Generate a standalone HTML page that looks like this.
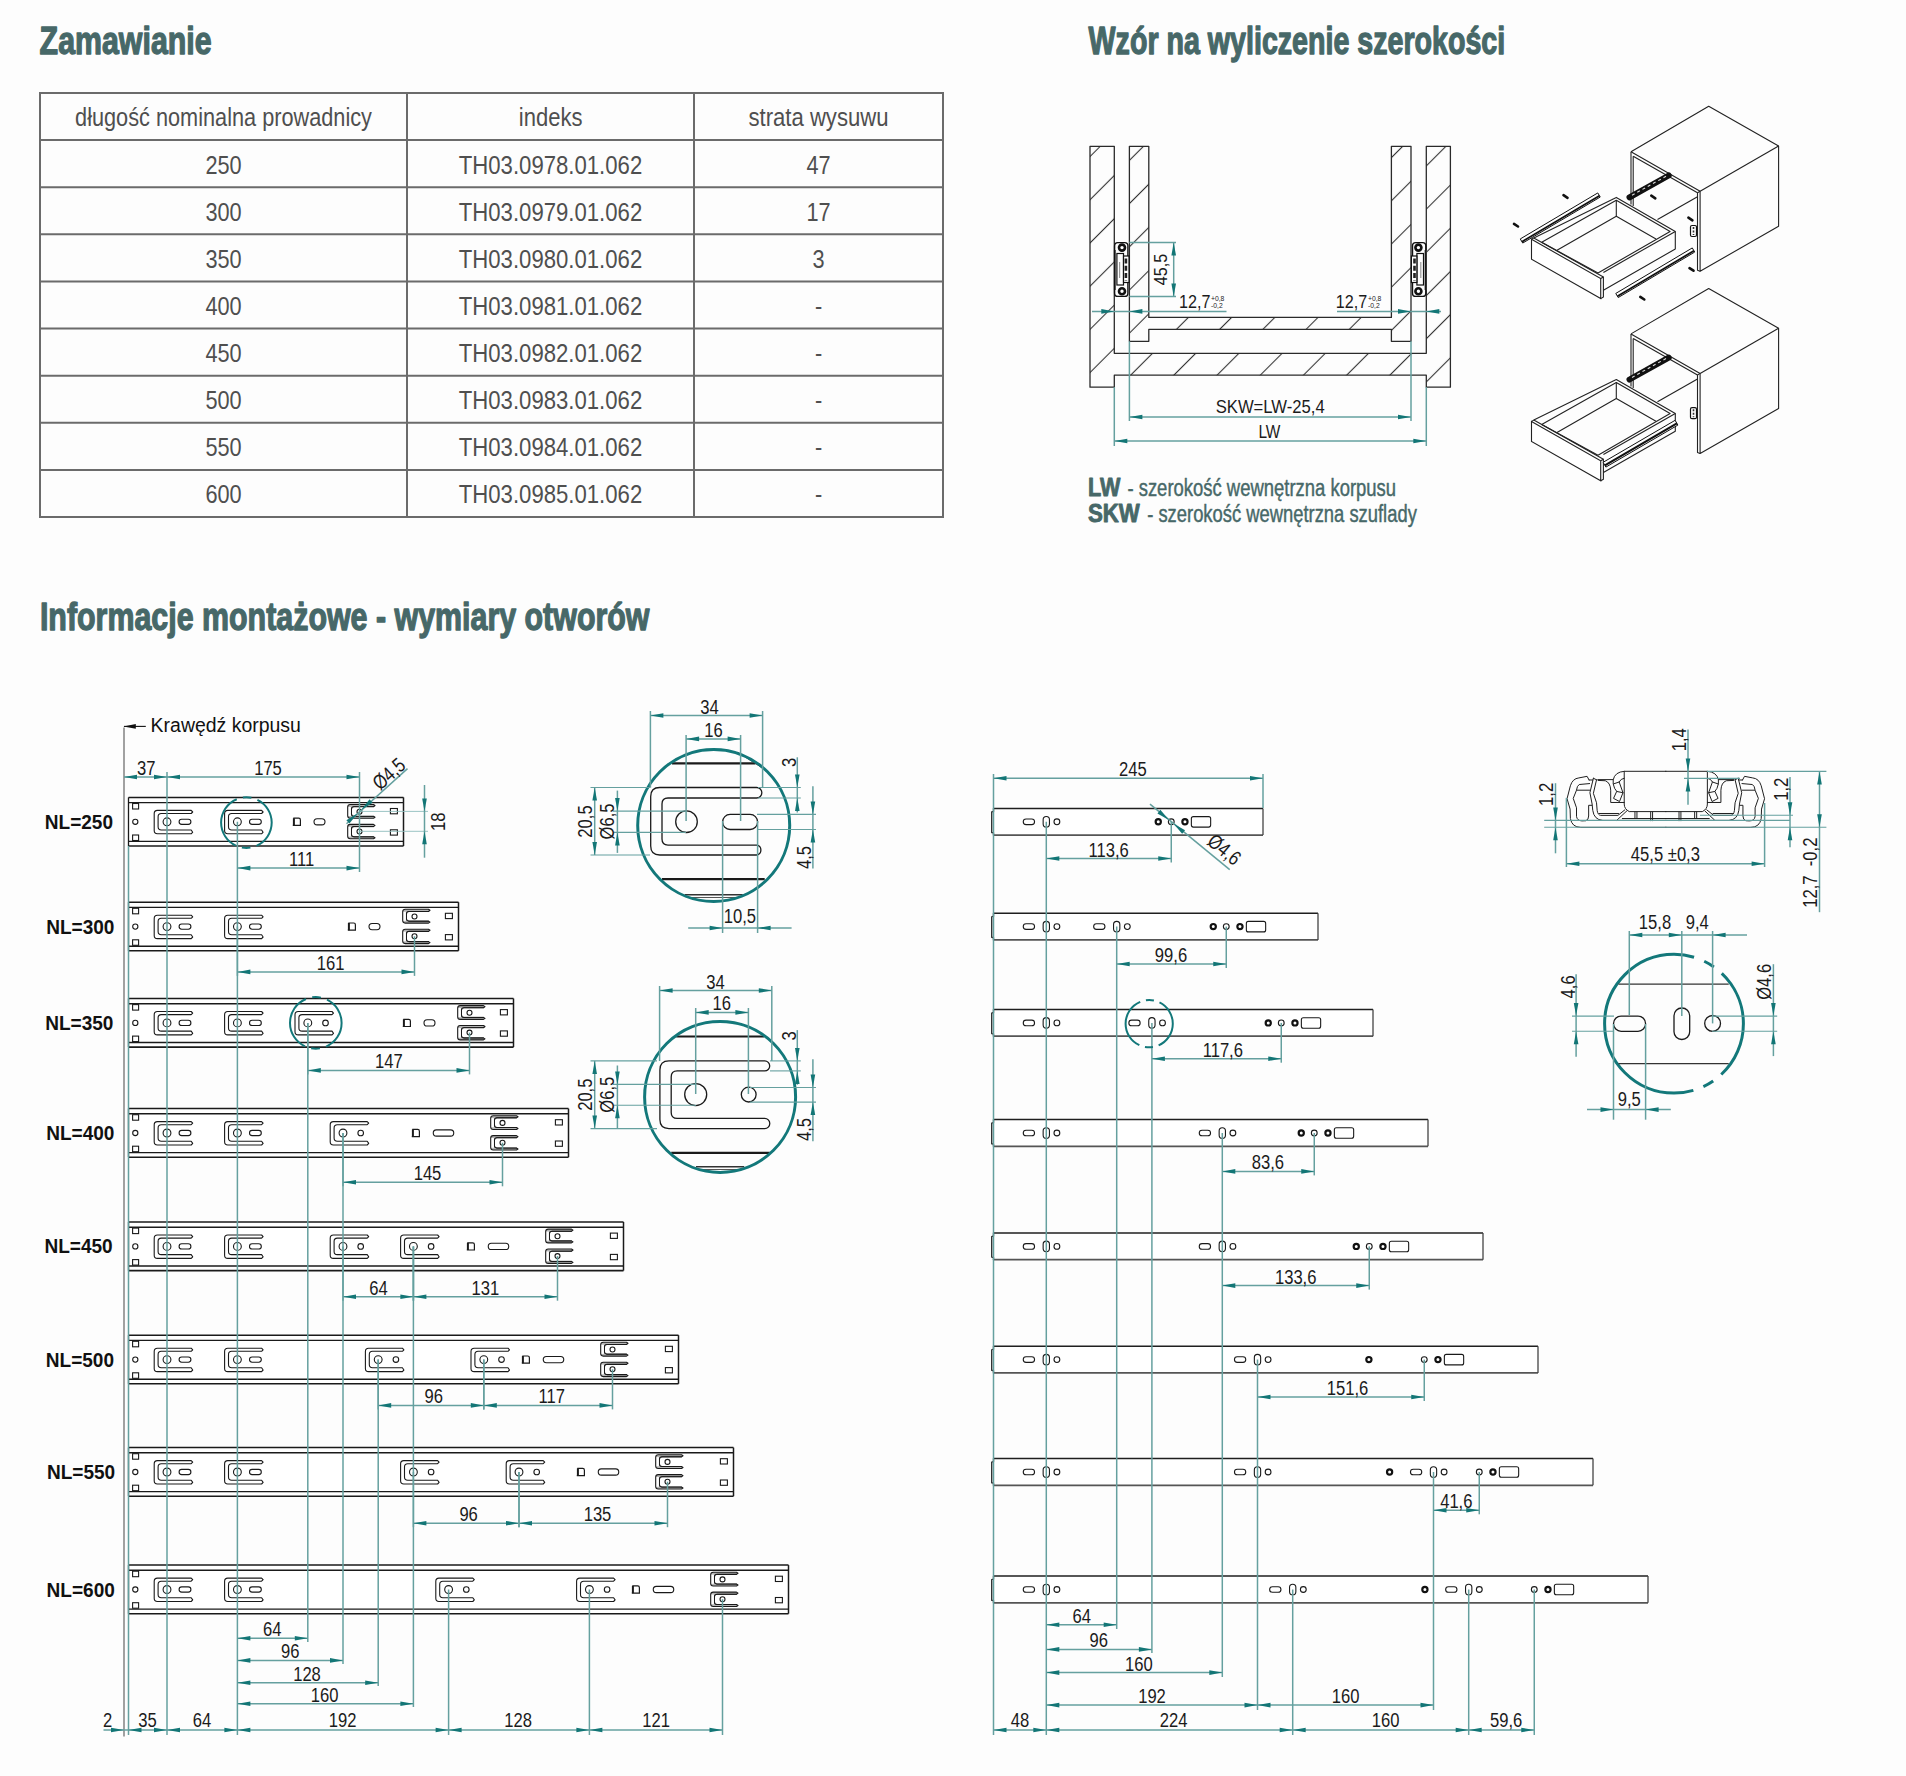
<!DOCTYPE html>
<html><head><meta charset="utf-8"><title>Prowadnice</title>
<style>
html,body{margin:0;padding:0;background:#fdfdfd;}
body{width:1906px;height:1776px;overflow:hidden;}
svg{display:block;font-family:"Liberation Sans",sans-serif;}
</style></head><body>
<svg width="1906" height="1776" viewBox="0 0 1906 1776">
<rect width="1906" height="1776" fill="#fdfdfd"/>
<text transform="translate(39.6,54.2) scale(0.7881,1)" font-size="38.5" font-weight="bold" fill="#476868" stroke="#476868" stroke-width="1.3" stroke-linejoin="round">Zamawianie</text>
<text transform="translate(1088.6,54.0) scale(0.7436,1)" font-size="38.5" font-weight="bold" fill="#476868" stroke="#476868" stroke-width="1.3" stroke-linejoin="round">Wzór na wyliczenie szerokości</text>
<text transform="translate(39.9,630.1) scale(0.7897,1)" font-size="38.5" font-weight="bold" fill="#476868" stroke="#476868" stroke-width="1.3" stroke-linejoin="round">Informacje montażowe - wymiary otworów</text>
<rect x="40" y="93" width="903" height="424" fill="none" stroke="#6b6b6b" stroke-width="2"/>
<line x1="40.00" y1="140.11" x2="943.00" y2="140.11" stroke="#6b6b6b" stroke-width="2"/>
<line x1="40.00" y1="187.22" x2="943.00" y2="187.22" stroke="#6b6b6b" stroke-width="2"/>
<line x1="40.00" y1="234.33" x2="943.00" y2="234.33" stroke="#6b6b6b" stroke-width="2"/>
<line x1="40.00" y1="281.44" x2="943.00" y2="281.44" stroke="#6b6b6b" stroke-width="2"/>
<line x1="40.00" y1="328.56" x2="943.00" y2="328.56" stroke="#6b6b6b" stroke-width="2"/>
<line x1="40.00" y1="375.67" x2="943.00" y2="375.67" stroke="#6b6b6b" stroke-width="2"/>
<line x1="40.00" y1="422.78" x2="943.00" y2="422.78" stroke="#6b6b6b" stroke-width="2"/>
<line x1="40.00" y1="469.89" x2="943.00" y2="469.89" stroke="#6b6b6b" stroke-width="2"/>
<line x1="407.00" y1="93.00" x2="407.00" y2="517.00" stroke="#6b6b6b" stroke-width="2"/>
<line x1="694.00" y1="93.00" x2="694.00" y2="517.00" stroke="#6b6b6b" stroke-width="2"/>
<text transform="translate(223.50,126.40) scale(0.8196,1)" font-size="26.5" text-anchor="middle" fill="#4f4f4f">długość nominalna prowadnicy</text>
<text transform="translate(550.70,126.40) scale(0.8316,1)" font-size="26.5" text-anchor="middle" fill="#4f4f4f">indeks</text>
<text transform="translate(818.50,126.40) scale(0.8351,1)" font-size="26.5" text-anchor="middle" fill="#4f4f4f">strata wysuwu</text>
<text transform="translate(223.50,173.51) scale(0.8200,1)" font-size="26.5" text-anchor="middle" fill="#4f4f4f">250</text>
<text transform="translate(550.50,173.51) scale(0.8364,1)" font-size="26.5" text-anchor="middle" fill="#4f4f4f">TH03.0978.01.062</text>
<text transform="translate(818.50,173.51) scale(0.8200,1)" font-size="26.5" text-anchor="middle" fill="#4f4f4f">47</text>
<text transform="translate(223.50,220.62) scale(0.8200,1)" font-size="26.5" text-anchor="middle" fill="#4f4f4f">300</text>
<text transform="translate(550.50,220.62) scale(0.8364,1)" font-size="26.5" text-anchor="middle" fill="#4f4f4f">TH03.0979.01.062</text>
<text transform="translate(818.50,220.62) scale(0.8200,1)" font-size="26.5" text-anchor="middle" fill="#4f4f4f">17</text>
<text transform="translate(223.50,267.73) scale(0.8200,1)" font-size="26.5" text-anchor="middle" fill="#4f4f4f">350</text>
<text transform="translate(550.50,267.73) scale(0.8364,1)" font-size="26.5" text-anchor="middle" fill="#4f4f4f">TH03.0980.01.062</text>
<text transform="translate(818.50,267.73) scale(0.8200,1)" font-size="26.5" text-anchor="middle" fill="#4f4f4f">3</text>
<text transform="translate(223.50,314.84) scale(0.8200,1)" font-size="26.5" text-anchor="middle" fill="#4f4f4f">400</text>
<text transform="translate(550.50,314.84) scale(0.8364,1)" font-size="26.5" text-anchor="middle" fill="#4f4f4f">TH03.0981.01.062</text>
<text transform="translate(818.50,314.84) scale(0.8200,1)" font-size="26.5" text-anchor="middle" fill="#4f4f4f">-</text>
<text transform="translate(223.50,361.96) scale(0.8200,1)" font-size="26.5" text-anchor="middle" fill="#4f4f4f">450</text>
<text transform="translate(550.50,361.96) scale(0.8364,1)" font-size="26.5" text-anchor="middle" fill="#4f4f4f">TH03.0982.01.062</text>
<text transform="translate(818.50,361.96) scale(0.8200,1)" font-size="26.5" text-anchor="middle" fill="#4f4f4f">-</text>
<text transform="translate(223.50,409.07) scale(0.8200,1)" font-size="26.5" text-anchor="middle" fill="#4f4f4f">500</text>
<text transform="translate(550.50,409.07) scale(0.8364,1)" font-size="26.5" text-anchor="middle" fill="#4f4f4f">TH03.0983.01.062</text>
<text transform="translate(818.50,409.07) scale(0.8200,1)" font-size="26.5" text-anchor="middle" fill="#4f4f4f">-</text>
<text transform="translate(223.50,456.18) scale(0.8200,1)" font-size="26.5" text-anchor="middle" fill="#4f4f4f">550</text>
<text transform="translate(550.50,456.18) scale(0.8364,1)" font-size="26.5" text-anchor="middle" fill="#4f4f4f">TH03.0984.01.062</text>
<text transform="translate(818.50,456.18) scale(0.8200,1)" font-size="26.5" text-anchor="middle" fill="#4f4f4f">-</text>
<text transform="translate(223.50,503.29) scale(0.8200,1)" font-size="26.5" text-anchor="middle" fill="#4f4f4f">600</text>
<text transform="translate(550.50,503.29) scale(0.8364,1)" font-size="26.5" text-anchor="middle" fill="#4f4f4f">TH03.0985.01.062</text>
<text transform="translate(818.50,503.29) scale(0.8200,1)" font-size="26.5" text-anchor="middle" fill="#4f4f4f">-</text>
<defs><pattern id="hatch" patternUnits="userSpaceOnUse" width="30.55" height="30" patternTransform="translate(1090,178.2) rotate(45)"><line x1="15.27" y1="-1" x2="15.27" y2="31" stroke="#333" stroke-width="1.1"/></pattern><clipPath id="c1"><rect x="0" y="0" width="1906" height="1776"/></clipPath></defs>
<polygon points="1090.00,146.30 1114.30,146.30 1114.30,353.30 1426.30,353.30 1426.30,146.30 1450.40,146.30 1450.40,387.20 1426.30,387.20 1426.30,375.20 1114.30,375.20 1114.30,387.20 1090.00,387.20" fill="url(#hatch)" stroke="#2a2a2a" stroke-width="1.3" stroke-linejoin="round"/>
<polygon points="1129.40,146.30 1148.80,146.30 1148.80,317.40 1391.40,317.40 1391.40,146.30 1411.00,146.30 1411.00,341.30 1391.40,341.30 1391.40,329.40 1148.80,329.40 1148.80,341.30 1129.40,341.30" fill="url(#hatch)" stroke="#2a2a2a" stroke-width="1.3" stroke-linejoin="round"/>
<line x1="1114.90" y1="250.00" x2="1114.90" y2="290.00" stroke="#777" stroke-width="2.2"/>
<rect x="1114.60" y="242.60" width="13.30" height="53.80" rx="3.2" fill="none" stroke="#111" stroke-width="1.4"/>
<rect x="1116.90" y="253.50" width="6.60" height="31.50" fill="#fff" stroke="#111" stroke-width="1.2"/>
<rect x="1123.50" y="256.00" width="5.50" height="26.50" fill="#fff" stroke="#111" stroke-width="1.2"/>
<line x1="1125.90" y1="258.5" x2="1125.90" y2="280.5" stroke="#222" stroke-width="2.6" stroke-dasharray="5 2.2"/>
<line x1="1119.60" y1="262.00" x2="1119.60" y2="278.00" stroke="#999" stroke-width="1.2"/>
<circle cx="1122.00" cy="247.6" r="3.0" fill="#fff" stroke="#111" stroke-width="2.6"/>
<circle cx="1122.00" cy="291.3" r="3.0" fill="#fff" stroke="#111" stroke-width="2.6"/>
<line x1="1425.50" y1="250.00" x2="1425.50" y2="290.00" stroke="#777" stroke-width="2.2"/>
<rect x="1412.50" y="242.60" width="13.30" height="53.80" rx="3.2" fill="none" stroke="#111" stroke-width="1.4"/>
<rect x="1416.90" y="253.50" width="6.60" height="31.50" fill="#fff" stroke="#111" stroke-width="1.2"/>
<rect x="1411.40" y="256.00" width="5.50" height="26.50" fill="#fff" stroke="#111" stroke-width="1.2"/>
<line x1="1414.50" y1="258.5" x2="1414.50" y2="280.5" stroke="#222" stroke-width="2.6" stroke-dasharray="5 2.2"/>
<line x1="1420.80" y1="262.00" x2="1420.80" y2="278.00" stroke="#999" stroke-width="1.2"/>
<circle cx="1418.40" cy="247.6" r="3.0" fill="#fff" stroke="#111" stroke-width="2.6"/>
<circle cx="1418.40" cy="291.3" r="3.0" fill="#fff" stroke="#111" stroke-width="2.6"/>
<line x1="1129.40" y1="242.60" x2="1176.00" y2="242.60" stroke="#65a09f" stroke-width="1.5"/>
<line x1="1129.40" y1="296.50" x2="1176.00" y2="296.50" stroke="#65a09f" stroke-width="1.5"/>
<line x1="1173.70" y1="242.60" x2="1173.70" y2="296.50" stroke="#65a09f" stroke-width="1.5"/>
<polygon points="1173.70,242.60 1176.00,255.60 1171.40,255.60" fill="#137676"/>
<polygon points="1173.70,296.50 1171.40,283.50 1176.00,283.50" fill="#137676"/>
<text transform="translate(1166.50,269.50) rotate(-90) scale(0.8500,1)" font-size="19" text-anchor="middle" fill="#1b1b1b">45,5</text>
<line x1="1092.00" y1="311.40" x2="1226.50" y2="311.40" stroke="#65a09f" stroke-width="1.5"/>
<polygon points="1114.30,311.40 1101.30,313.70 1101.30,309.10" fill="#137676"/>
<polygon points="1129.40,311.40 1142.40,309.10 1142.40,313.70" fill="#137676"/>
<text transform="translate(1179.00,308.00) scale(0.8500,1)" font-size="19" text-anchor="start" fill="#1b1b1b">12,7</text>
<text transform="translate(1211.00,300.50) scale(0.8500,1)" font-size="8" text-anchor="start" fill="#1b1b1b">+0,8</text>
<text transform="translate(1211.00,307.50) scale(0.8500,1)" font-size="8" text-anchor="start" fill="#1b1b1b">-0,2</text>
<line x1="1337.00" y1="311.40" x2="1441.00" y2="311.40" stroke="#65a09f" stroke-width="1.5"/>
<polygon points="1411.00,311.40 1398.00,313.70 1398.00,309.10" fill="#137676"/>
<polygon points="1426.30,311.40 1439.30,309.10 1439.30,313.70" fill="#137676"/>
<text transform="translate(1335.80,308.00) scale(0.8500,1)" font-size="19" text-anchor="start" fill="#1b1b1b">12,7</text>
<text transform="translate(1368.00,300.50) scale(0.8500,1)" font-size="8" text-anchor="start" fill="#1b1b1b">+0,8</text>
<text transform="translate(1368.00,307.50) scale(0.8500,1)" font-size="8" text-anchor="start" fill="#1b1b1b">-0,2</text>
<line x1="1129.40" y1="341.30" x2="1129.40" y2="421.00" stroke="#65a09f" stroke-width="1.5"/>
<line x1="1411.00" y1="341.30" x2="1411.00" y2="421.00" stroke="#65a09f" stroke-width="1.5"/>
<line x1="1129.40" y1="417.00" x2="1411.00" y2="417.00" stroke="#65a09f" stroke-width="1.5"/>
<polygon points="1129.40,417.00 1142.40,414.70 1142.40,419.30" fill="#137676"/>
<polygon points="1411.00,417.00 1398.00,419.30 1398.00,414.70" fill="#137676"/>
<text transform="translate(1270.20,413.00) scale(0.8760,1)" font-size="19" text-anchor="middle" fill="#1b1b1b">SKW=LW-25,4</text>
<line x1="1114.30" y1="387.20" x2="1114.30" y2="446.00" stroke="#65a09f" stroke-width="1.5"/>
<line x1="1426.30" y1="387.20" x2="1426.30" y2="446.00" stroke="#65a09f" stroke-width="1.5"/>
<line x1="1114.30" y1="441.00" x2="1426.30" y2="441.00" stroke="#65a09f" stroke-width="1.5"/>
<polygon points="1114.30,441.00 1127.30,438.70 1127.30,443.30" fill="#137676"/>
<polygon points="1426.30,441.00 1413.30,443.30 1413.30,438.70" fill="#137676"/>
<text transform="translate(1269.40,438.00) scale(0.8121,1)" font-size="19" text-anchor="middle" fill="#1b1b1b">LW</text>
<text transform="translate(1087.9,495.6) scale(0.8643,1)" font-size="25.0" font-weight="bold" fill="#476868" stroke="#476868" stroke-width="0.9" stroke-linejoin="round">LW</text>
<text transform="translate(1127.4,495.6) scale(0.7504,1)" font-size="24.6" fill="#476868" stroke="#476868" stroke-width="0.45" stroke-linejoin="round">- szerokość wewnętrzna korpusu</text>
<text transform="translate(1087.9,522.0) scale(0.8881,1)" font-size="25.0" font-weight="bold" fill="#476868" stroke="#476868" stroke-width="0.9" stroke-linejoin="round">SKW</text>
<text transform="translate(1147.2,522.0) scale(0.7475,1)" font-size="24.6" fill="#476868" stroke="#476868" stroke-width="0.45" stroke-linejoin="round">- szerokość wewnętrzna szuflady</text>
<polyline points="1631.00,151.70 1708.70,106.30 1778.60,146.10 1778.60,226.20 1700.10,271.30 1700.10,191.20 1631.00,151.70" fill="none" stroke="#222" stroke-width="1.1" stroke-linejoin="round"/>
<polyline points="1700.10,191.20 1778.60,146.10" fill="none" stroke="#222" stroke-width="1.1" stroke-linejoin="round"/>
<polyline points="1700.10,191.20 1697.50,192.80 1697.50,270.30 1700.10,271.30" fill="none" stroke="#222" stroke-width="1.1" stroke-linejoin="round"/>
<polyline points="1631.00,151.70 1631.00,204.40" fill="none" stroke="#222" stroke-width="1.1" stroke-linejoin="round"/>
<polyline points="1633.20,156.30 1633.20,205.90" fill="none" stroke="#222" stroke-width="1.1" stroke-linejoin="round"/>
<polyline points="1633.20,156.30 1697.50,192.80" fill="none" stroke="#222" stroke-width="1.1" stroke-linejoin="round"/>
<polyline points="1657.50,219.60 1697.50,196.80" fill="none" stroke="#222" stroke-width="1.1" stroke-linejoin="round"/>
<line x1="1629.50" y1="197.30" x2="1668.70" y2="175.50" stroke="#111" stroke-width="6.0" stroke-linecap="round"/>
<line x1="1632" y1="195.2" x2="1666" y2="176.3" stroke="#ddd" stroke-width="1.1" stroke-dasharray="3 3"/>
<rect x="1690.5" y="225.5" width="6" height="11" rx="1.5" fill="#fff" stroke="#111" stroke-width="1.2"/>
<line x1="1693.5" y1="227.0" x2="1693.5" y2="235.0" stroke="#333" stroke-width="1.6" stroke-dasharray="2 1.5"/>
<polygon points="1531.50,239.30 1600.70,278.60 1600.70,298.60 1531.50,259.20" fill="#fff" stroke="#222" stroke-width="1.1"/>
<polyline points="1600.70,278.60 1603.40,277.10 1603.40,297.00 1600.70,298.60" fill="none" stroke="#222" stroke-width="1.1" stroke-linejoin="round"/>
<polyline points="1531.50,239.30 1533.80,237.90 1603.40,277.10" fill="none" stroke="#222" stroke-width="1.1" stroke-linejoin="round"/>
<polyline points="1533.80,237.90 1616.30,197.40 1675.30,231.40 1675.30,249.00 1603.40,290.20" fill="none" stroke="#222" stroke-width="1.1" stroke-linejoin="round"/>
<polyline points="1675.30,231.40 1603.40,272.40" fill="none" stroke="#222" stroke-width="1.1" stroke-linejoin="round"/>
<polyline points="1541.70,242.30 1616.30,200.30 1670.10,231.40 1598.00,273.00" fill="none" stroke="#222" stroke-width="1.1" stroke-linejoin="round"/>
<polyline points="1541.70,242.30 1598.00,273.00" fill="none" stroke="#222" stroke-width="1.1" stroke-linejoin="round"/>
<polyline points="1616.30,200.30 1616.30,216.30" fill="none" stroke="#222" stroke-width="1.1" stroke-linejoin="round"/>
<polyline points="1557.00,250.30 1616.30,216.30 1656.00,239.00" fill="none" stroke="#222" stroke-width="1.1" stroke-linejoin="round"/>
<polygon points="1522.72,243.06 1600.22,197.06 1597.78,192.94 1520.28,238.94" fill="#fff" stroke="#111" stroke-width="1.0" stroke-linejoin="round"/>
<line x1="1521.96" y1="241.77" x2="1599.46" y2="195.77" stroke="#111" stroke-width="1.8"/>
<polygon points="1618.23,297.56 1694.73,252.06 1692.27,247.94 1615.77,293.44" fill="#fff" stroke="#111" stroke-width="1.0" stroke-linejoin="round"/>
<line x1="1617.46" y1="296.27" x2="1693.96" y2="250.77" stroke="#111" stroke-width="1.8"/>
<line x1="1563.5" y1="195.2" x2="1567.5" y2="197.8" stroke="#111" stroke-width="2.6" stroke-linecap="round"/>
<line x1="1514.0" y1="223.9" x2="1518.0" y2="226.5" stroke="#111" stroke-width="2.6" stroke-linecap="round"/>
<line x1="1651.3" y1="195.7" x2="1655.3" y2="198.3" stroke="#111" stroke-width="2.6" stroke-linecap="round"/>
<line x1="1688.4" y1="217.7" x2="1692.4" y2="220.3" stroke="#111" stroke-width="2.6" stroke-linecap="round"/>
<line x1="1689.5" y1="268.1" x2="1693.5" y2="270.7" stroke="#111" stroke-width="2.6" stroke-linecap="round"/>
<line x1="1640.3" y1="296.9" x2="1644.3" y2="299.5" stroke="#111" stroke-width="2.6" stroke-linecap="round"/>
<polyline points="1631.00,333.90 1708.70,288.50 1778.60,328.30 1778.60,408.40 1700.10,453.50 1700.10,373.40 1631.00,333.90" fill="none" stroke="#222" stroke-width="1.1" stroke-linejoin="round"/>
<polyline points="1700.10,373.40 1778.60,328.30" fill="none" stroke="#222" stroke-width="1.1" stroke-linejoin="round"/>
<polyline points="1700.10,373.40 1697.50,375.00 1697.50,452.50 1700.10,453.50" fill="none" stroke="#222" stroke-width="1.1" stroke-linejoin="round"/>
<polyline points="1631.00,333.90 1631.00,386.60" fill="none" stroke="#222" stroke-width="1.1" stroke-linejoin="round"/>
<polyline points="1633.20,338.50 1633.20,388.10" fill="none" stroke="#222" stroke-width="1.1" stroke-linejoin="round"/>
<polyline points="1633.20,338.50 1697.50,375.00" fill="none" stroke="#222" stroke-width="1.1" stroke-linejoin="round"/>
<polyline points="1657.50,401.80 1697.50,379.00" fill="none" stroke="#222" stroke-width="1.1" stroke-linejoin="round"/>
<line x1="1629.50" y1="379.50" x2="1668.70" y2="357.70" stroke="#111" stroke-width="6.0" stroke-linecap="round"/>
<line x1="1632" y1="377.4" x2="1666" y2="358.5" stroke="#ddd" stroke-width="1.1" stroke-dasharray="3 3"/>
<rect x="1690.5" y="407.7" width="6" height="11" rx="1.5" fill="#fff" stroke="#111" stroke-width="1.2"/>
<line x1="1693.5" y1="409.2" x2="1693.5" y2="417.2" stroke="#333" stroke-width="1.6" stroke-dasharray="2 1.5"/>
<polygon points="1531.50,421.50 1600.70,460.80 1600.70,480.80 1531.50,441.40" fill="#fff" stroke="#222" stroke-width="1.1"/>
<polyline points="1600.70,460.80 1603.40,459.30 1603.40,479.20 1600.70,480.80" fill="none" stroke="#222" stroke-width="1.1" stroke-linejoin="round"/>
<polyline points="1531.50,421.50 1533.80,420.10 1603.40,459.30" fill="none" stroke="#222" stroke-width="1.1" stroke-linejoin="round"/>
<polyline points="1533.80,420.10 1616.30,379.60 1675.30,413.60 1675.30,431.20 1603.40,472.40" fill="none" stroke="#222" stroke-width="1.1" stroke-linejoin="round"/>
<polyline points="1675.30,413.60 1603.40,454.60" fill="none" stroke="#222" stroke-width="1.1" stroke-linejoin="round"/>
<polyline points="1541.70,424.50 1616.30,382.50 1670.10,413.60 1598.00,455.20" fill="none" stroke="#222" stroke-width="1.1" stroke-linejoin="round"/>
<polyline points="1541.70,424.50 1598.00,455.20" fill="none" stroke="#222" stroke-width="1.1" stroke-linejoin="round"/>
<polyline points="1616.30,382.50 1616.30,398.50" fill="none" stroke="#222" stroke-width="1.1" stroke-linejoin="round"/>
<polyline points="1557.00,432.50 1616.30,398.50 1656.00,421.20" fill="none" stroke="#222" stroke-width="1.1" stroke-linejoin="round"/>
<polygon points="1605.89,467.08 1677.89,425.08 1675.11,420.32 1603.11,462.32" fill="#fff" stroke="#111" stroke-width="1.0" stroke-linejoin="round"/>
<line x1="1604.90" y1="465.39" x2="1676.90" y2="423.39" stroke="#111" stroke-width="2.2"/>
<rect x="128.50" y="797.40" width="275.00" height="48.60" fill="#fff" stroke="none"/>
<line x1="128.50" y1="797.40" x2="403.50" y2="797.40" stroke="#1a1a1a" stroke-width="1.5"/>
<line x1="128.50" y1="802.60" x2="403.50" y2="802.60" stroke="#1a1a1a" stroke-width="1.4"/>
<line x1="128.50" y1="841.40" x2="403.50" y2="841.40" stroke="#1a1a1a" stroke-width="1.4"/>
<line x1="128.50" y1="846.00" x2="403.50" y2="846.00" stroke="#1a1a1a" stroke-width="1.6"/>
<line x1="128.50" y1="797.40" x2="128.50" y2="846.00" stroke="#1a1a1a" stroke-width="1.3"/>
<line x1="403.50" y1="797.40" x2="403.50" y2="846.00" stroke="#1a1a1a" stroke-width="1.5"/>
<rect x="132.60" y="803.50" width="6" height="5.5" fill="none" stroke="#1a1a1a" stroke-width="1.1"/>
<rect x="132.60" y="835.00" width="6" height="5.5" fill="none" stroke="#1a1a1a" stroke-width="1.1"/>
<circle cx="135.30" cy="821.80" r="2.6" fill="none" stroke="#1a1a1a" stroke-width="1.1"/>
<path d="M191.20,810.40 L157.40,810.40 Q154.20,810.40 154.20,813.60 L154.20,830.60 Q154.20,833.80 157.40,833.80 L191.20,833.80 L192.70,832.20 L191.20,830.00 L161.30,830.00 Q158.10,830.00 158.10,826.80 L158.10,816.70 Q158.10,813.50 161.30,813.50 L191.20,813.50 L192.70,812.00 Z" fill="none" stroke="#1a1a1a" stroke-width="1.1" stroke-linejoin="round" stroke-linecap="round"/>
<circle cx="167.00" cy="821.80" r="3.9" fill="none" stroke="#1a1a1a" stroke-width="1.1"/>
<rect x="179.10" y="819.20" width="11.8" height="5.2" rx="2.6" fill="none" stroke="#1a1a1a" stroke-width="1.1"/>
<path d="M261.60,810.40 L227.80,810.40 Q224.60,810.40 224.60,813.60 L224.60,830.60 Q224.60,833.80 227.80,833.80 L261.60,833.80 L263.10,832.20 L261.60,830.00 L231.70,830.00 Q228.50,830.00 228.50,826.80 L228.50,816.70 Q228.50,813.50 231.70,813.50 L261.60,813.50 L263.10,812.00 Z" fill="none" stroke="#1a1a1a" stroke-width="1.1" stroke-linejoin="round" stroke-linecap="round"/>
<circle cx="237.40" cy="821.80" r="3.9" fill="none" stroke="#1a1a1a" stroke-width="1.1"/>
<rect x="249.50" y="819.20" width="11.8" height="5.2" rx="2.6" fill="none" stroke="#1a1a1a" stroke-width="1.1"/>
<path d="M293.30,818.20 L298.70,818.20 Q300.40,818.20 300.40,820.00 L300.40,825.40 L292.80,825.40" fill="none" stroke="#1a1a1a" stroke-width="1.2"/>
<line x1="293.90" y1="818.20" x2="293.90" y2="825.40" stroke="#1a1a1a" stroke-width="2.0"/>
<rect x="314.00" y="818.70" width="11" height="6.2" rx="3.1" fill="none" stroke="#1a1a1a" stroke-width="1.1"/>
<path d="M373.50,804.50 L350.20,804.50 Q347.70,804.50 347.70,807.00 L347.70,815.80 Q347.70,818.30 350.20,818.30 L373.50,818.30 L375.00,817.30 L373.50,816.30 L354.00,816.30 Q351.50,816.30 351.50,813.80 L351.50,809.20 Q351.50,806.70 354.00,806.70 L373.50,806.70 L375.00,805.50 Z" fill="#b4b4b4" stroke="#1a1a1a" stroke-width="1.1" stroke-linejoin="round" stroke-linecap="round"/>
<rect x="352.10" y="807.30" width="22.90" height="8.40" fill="#fff"/>
<rect x="348.50" y="806.90" width="2.40" height="9.20" fill="#fff"/>
<path d="M373.50,806.70 L354.00,806.70 Q351.50,806.70 351.50,809.20 L351.50,813.80 Q351.50,816.30 354.00,816.30 L373.50,816.30" fill="none" stroke="#1a1a1a" stroke-width="1.0" stroke-linejoin="round" stroke-linecap="round"/>
<circle cx="359.50" cy="811.70" r="2.5" fill="#fff" stroke="#1a1a1a" stroke-width="1.1"/>
<path d="M373.50,824.40 L350.20,824.40 Q347.70,824.40 347.70,826.90 L347.70,836.30 Q347.70,838.80 350.20,838.80 L373.50,838.80 L375.00,837.80 L373.50,836.80 L354.00,836.80 Q351.50,836.80 351.50,834.30 L351.50,829.10 Q351.50,826.60 354.00,826.60 L373.50,826.60 L375.00,825.40 Z" fill="#b4b4b4" stroke="#1a1a1a" stroke-width="1.1" stroke-linejoin="round" stroke-linecap="round"/>
<rect x="352.10" y="827.20" width="22.90" height="9.00" fill="#fff"/>
<rect x="348.50" y="826.80" width="2.40" height="9.80" fill="#fff"/>
<path d="M373.50,826.60 L354.00,826.60 Q351.50,826.60 351.50,829.10 L351.50,834.30 Q351.50,836.80 354.00,836.80 L373.50,836.80" fill="none" stroke="#1a1a1a" stroke-width="1.0" stroke-linejoin="round" stroke-linecap="round"/>
<circle cx="359.50" cy="831.50" r="2.5" fill="#fff" stroke="#1a1a1a" stroke-width="1.1"/>
<rect x="390.40" y="808.50" width="7" height="5.3" fill="none" stroke="#1a1a1a" stroke-width="1.1"/>
<rect x="390.40" y="829.80" width="7" height="5.3" fill="none" stroke="#1a1a1a" stroke-width="1.1"/>
<text transform="translate(113.00,828.80) scale(0.9870,1)" font-size="19.3" text-anchor="end" fill="#111" font-weight="bold">NL=250</text>
<rect x="128.50" y="902.20" width="330.00" height="48.60" fill="#fff" stroke="none"/>
<line x1="128.50" y1="902.20" x2="458.50" y2="902.20" stroke="#1a1a1a" stroke-width="1.5"/>
<line x1="128.50" y1="907.40" x2="458.50" y2="907.40" stroke="#1a1a1a" stroke-width="1.4"/>
<line x1="128.50" y1="946.20" x2="458.50" y2="946.20" stroke="#1a1a1a" stroke-width="1.4"/>
<line x1="128.50" y1="950.80" x2="458.50" y2="950.80" stroke="#1a1a1a" stroke-width="1.6"/>
<line x1="128.50" y1="902.20" x2="128.50" y2="950.80" stroke="#1a1a1a" stroke-width="1.3"/>
<line x1="458.50" y1="902.20" x2="458.50" y2="950.80" stroke="#1a1a1a" stroke-width="1.5"/>
<rect x="132.60" y="908.30" width="6" height="5.5" fill="none" stroke="#1a1a1a" stroke-width="1.1"/>
<rect x="132.60" y="939.80" width="6" height="5.5" fill="none" stroke="#1a1a1a" stroke-width="1.1"/>
<circle cx="135.30" cy="926.60" r="2.6" fill="none" stroke="#1a1a1a" stroke-width="1.1"/>
<path d="M191.20,915.20 L157.40,915.20 Q154.20,915.20 154.20,918.40 L154.20,935.40 Q154.20,938.60 157.40,938.60 L191.20,938.60 L192.70,937.00 L191.20,934.80 L161.30,934.80 Q158.10,934.80 158.10,931.60 L158.10,921.50 Q158.10,918.30 161.30,918.30 L191.20,918.30 L192.70,916.80 Z" fill="none" stroke="#1a1a1a" stroke-width="1.1" stroke-linejoin="round" stroke-linecap="round"/>
<circle cx="167.00" cy="926.60" r="3.9" fill="none" stroke="#1a1a1a" stroke-width="1.1"/>
<rect x="179.10" y="924.00" width="11.8" height="5.2" rx="2.6" fill="none" stroke="#1a1a1a" stroke-width="1.1"/>
<path d="M261.60,915.20 L227.80,915.20 Q224.60,915.20 224.60,918.40 L224.60,935.40 Q224.60,938.60 227.80,938.60 L261.60,938.60 L263.10,937.00 L261.60,934.80 L231.70,934.80 Q228.50,934.80 228.50,931.60 L228.50,921.50 Q228.50,918.30 231.70,918.30 L261.60,918.30 L263.10,916.80 Z" fill="none" stroke="#1a1a1a" stroke-width="1.1" stroke-linejoin="round" stroke-linecap="round"/>
<circle cx="237.40" cy="926.60" r="3.9" fill="none" stroke="#1a1a1a" stroke-width="1.1"/>
<rect x="249.50" y="924.00" width="11.8" height="5.2" rx="2.6" fill="none" stroke="#1a1a1a" stroke-width="1.1"/>
<path d="M348.30,923.00 L353.70,923.00 Q355.40,923.00 355.40,924.80 L355.40,930.20 L347.80,930.20" fill="none" stroke="#1a1a1a" stroke-width="1.2"/>
<line x1="348.90" y1="923.00" x2="348.90" y2="930.20" stroke="#1a1a1a" stroke-width="2.0"/>
<rect x="369.00" y="923.50" width="11" height="6.2" rx="3.1" fill="none" stroke="#1a1a1a" stroke-width="1.1"/>
<path d="M428.50,909.30 L405.20,909.30 Q402.70,909.30 402.70,911.80 L402.70,920.60 Q402.70,923.10 405.20,923.10 L428.50,923.10 L430.00,922.10 L428.50,921.10 L409.00,921.10 Q406.50,921.10 406.50,918.60 L406.50,914.00 Q406.50,911.50 409.00,911.50 L428.50,911.50 L430.00,910.30 Z" fill="#b4b4b4" stroke="#1a1a1a" stroke-width="1.1" stroke-linejoin="round" stroke-linecap="round"/>
<rect x="407.10" y="912.10" width="22.90" height="8.40" fill="#fff"/>
<rect x="403.50" y="911.70" width="2.40" height="9.20" fill="#fff"/>
<path d="M428.50,911.50 L409.00,911.50 Q406.50,911.50 406.50,914.00 L406.50,918.60 Q406.50,921.10 409.00,921.10 L428.50,921.10" fill="none" stroke="#1a1a1a" stroke-width="1.0" stroke-linejoin="round" stroke-linecap="round"/>
<circle cx="414.50" cy="916.50" r="2.5" fill="#fff" stroke="#1a1a1a" stroke-width="1.1"/>
<path d="M428.50,929.20 L405.20,929.20 Q402.70,929.20 402.70,931.70 L402.70,941.10 Q402.70,943.60 405.20,943.60 L428.50,943.60 L430.00,942.60 L428.50,941.60 L409.00,941.60 Q406.50,941.60 406.50,939.10 L406.50,933.90 Q406.50,931.40 409.00,931.40 L428.50,931.40 L430.00,930.20 Z" fill="#b4b4b4" stroke="#1a1a1a" stroke-width="1.1" stroke-linejoin="round" stroke-linecap="round"/>
<rect x="407.10" y="932.00" width="22.90" height="9.00" fill="#fff"/>
<rect x="403.50" y="931.60" width="2.40" height="9.80" fill="#fff"/>
<path d="M428.50,931.40 L409.00,931.40 Q406.50,931.40 406.50,933.90 L406.50,939.10 Q406.50,941.60 409.00,941.60 L428.50,941.60" fill="none" stroke="#1a1a1a" stroke-width="1.0" stroke-linejoin="round" stroke-linecap="round"/>
<circle cx="414.50" cy="936.30" r="2.5" fill="#fff" stroke="#1a1a1a" stroke-width="1.1"/>
<rect x="445.40" y="913.30" width="7" height="5.3" fill="none" stroke="#1a1a1a" stroke-width="1.1"/>
<rect x="445.40" y="934.60" width="7" height="5.3" fill="none" stroke="#1a1a1a" stroke-width="1.1"/>
<text transform="translate(114.40,933.60) scale(0.9870,1)" font-size="19.3" text-anchor="end" fill="#111" font-weight="bold">NL=300</text>
<rect x="128.50" y="998.50" width="385.00" height="48.60" fill="#fff" stroke="none"/>
<line x1="128.50" y1="998.50" x2="513.50" y2="998.50" stroke="#1a1a1a" stroke-width="1.5"/>
<line x1="128.50" y1="1003.70" x2="513.50" y2="1003.70" stroke="#1a1a1a" stroke-width="1.4"/>
<line x1="128.50" y1="1042.50" x2="513.50" y2="1042.50" stroke="#1a1a1a" stroke-width="1.4"/>
<line x1="128.50" y1="1047.10" x2="513.50" y2="1047.10" stroke="#1a1a1a" stroke-width="1.6"/>
<line x1="128.50" y1="998.50" x2="128.50" y2="1047.10" stroke="#1a1a1a" stroke-width="1.3"/>
<line x1="513.50" y1="998.50" x2="513.50" y2="1047.10" stroke="#1a1a1a" stroke-width="1.5"/>
<rect x="132.60" y="1004.60" width="6" height="5.5" fill="none" stroke="#1a1a1a" stroke-width="1.1"/>
<rect x="132.60" y="1036.10" width="6" height="5.5" fill="none" stroke="#1a1a1a" stroke-width="1.1"/>
<circle cx="135.30" cy="1022.90" r="2.6" fill="none" stroke="#1a1a1a" stroke-width="1.1"/>
<path d="M191.20,1011.50 L157.40,1011.50 Q154.20,1011.50 154.20,1014.70 L154.20,1031.70 Q154.20,1034.90 157.40,1034.90 L191.20,1034.90 L192.70,1033.30 L191.20,1031.10 L161.30,1031.10 Q158.10,1031.10 158.10,1027.90 L158.10,1017.80 Q158.10,1014.60 161.30,1014.60 L191.20,1014.60 L192.70,1013.10 Z" fill="none" stroke="#1a1a1a" stroke-width="1.1" stroke-linejoin="round" stroke-linecap="round"/>
<circle cx="167.00" cy="1022.90" r="3.9" fill="none" stroke="#1a1a1a" stroke-width="1.1"/>
<rect x="179.10" y="1020.30" width="11.8" height="5.2" rx="2.6" fill="none" stroke="#1a1a1a" stroke-width="1.1"/>
<path d="M261.60,1011.50 L227.80,1011.50 Q224.60,1011.50 224.60,1014.70 L224.60,1031.70 Q224.60,1034.90 227.80,1034.90 L261.60,1034.90 L263.10,1033.30 L261.60,1031.10 L231.70,1031.10 Q228.50,1031.10 228.50,1027.90 L228.50,1017.80 Q228.50,1014.60 231.70,1014.60 L261.60,1014.60 L263.10,1013.10 Z" fill="none" stroke="#1a1a1a" stroke-width="1.1" stroke-linejoin="round" stroke-linecap="round"/>
<circle cx="237.40" cy="1022.90" r="3.9" fill="none" stroke="#1a1a1a" stroke-width="1.1"/>
<rect x="249.50" y="1020.30" width="11.8" height="5.2" rx="2.6" fill="none" stroke="#1a1a1a" stroke-width="1.1"/>
<path d="M332.00,1011.50 L298.20,1011.50 Q295.00,1011.50 295.00,1014.70 L295.00,1031.70 Q295.00,1034.90 298.20,1034.90 L332.00,1034.90 L333.50,1033.30 L332.00,1031.10 L302.10,1031.10 Q298.90,1031.10 298.90,1027.90 L298.90,1017.80 Q298.90,1014.60 302.10,1014.60 L332.00,1014.60 L333.50,1013.10 Z" fill="none" stroke="#1a1a1a" stroke-width="1.1" stroke-linejoin="round" stroke-linecap="round"/>
<circle cx="307.80" cy="1022.90" r="3.9" fill="none" stroke="#1a1a1a" stroke-width="1.1"/>
<circle cx="325.50" cy="1022.90" r="2.8" fill="none" stroke="#1a1a1a" stroke-width="1.1"/>
<path d="M403.30,1019.30 L408.70,1019.30 Q410.40,1019.30 410.40,1021.10 L410.40,1026.50 L402.80,1026.50" fill="none" stroke="#1a1a1a" stroke-width="1.2"/>
<line x1="403.90" y1="1019.30" x2="403.90" y2="1026.50" stroke="#1a1a1a" stroke-width="2.0"/>
<rect x="424.00" y="1019.80" width="11" height="6.2" rx="3.1" fill="none" stroke="#1a1a1a" stroke-width="1.1"/>
<path d="M483.50,1005.60 L460.20,1005.60 Q457.70,1005.60 457.70,1008.10 L457.70,1016.90 Q457.70,1019.40 460.20,1019.40 L483.50,1019.40 L485.00,1018.40 L483.50,1017.40 L464.00,1017.40 Q461.50,1017.40 461.50,1014.90 L461.50,1010.30 Q461.50,1007.80 464.00,1007.80 L483.50,1007.80 L485.00,1006.60 Z" fill="#b4b4b4" stroke="#1a1a1a" stroke-width="1.1" stroke-linejoin="round" stroke-linecap="round"/>
<rect x="462.10" y="1008.40" width="22.90" height="8.40" fill="#fff"/>
<rect x="458.50" y="1008.00" width="2.40" height="9.20" fill="#fff"/>
<path d="M483.50,1007.80 L464.00,1007.80 Q461.50,1007.80 461.50,1010.30 L461.50,1014.90 Q461.50,1017.40 464.00,1017.40 L483.50,1017.40" fill="none" stroke="#1a1a1a" stroke-width="1.0" stroke-linejoin="round" stroke-linecap="round"/>
<circle cx="469.50" cy="1012.80" r="2.5" fill="#fff" stroke="#1a1a1a" stroke-width="1.1"/>
<path d="M483.50,1025.50 L460.20,1025.50 Q457.70,1025.50 457.70,1028.00 L457.70,1037.40 Q457.70,1039.90 460.20,1039.90 L483.50,1039.90 L485.00,1038.90 L483.50,1037.90 L464.00,1037.90 Q461.50,1037.90 461.50,1035.40 L461.50,1030.20 Q461.50,1027.70 464.00,1027.70 L483.50,1027.70 L485.00,1026.50 Z" fill="#b4b4b4" stroke="#1a1a1a" stroke-width="1.1" stroke-linejoin="round" stroke-linecap="round"/>
<rect x="462.10" y="1028.30" width="22.90" height="9.00" fill="#fff"/>
<rect x="458.50" y="1027.90" width="2.40" height="9.80" fill="#fff"/>
<path d="M483.50,1027.70 L464.00,1027.70 Q461.50,1027.70 461.50,1030.20 L461.50,1035.40 Q461.50,1037.90 464.00,1037.90 L483.50,1037.90" fill="none" stroke="#1a1a1a" stroke-width="1.0" stroke-linejoin="round" stroke-linecap="round"/>
<circle cx="469.50" cy="1032.60" r="2.5" fill="#fff" stroke="#1a1a1a" stroke-width="1.1"/>
<rect x="500.40" y="1009.60" width="7" height="5.3" fill="none" stroke="#1a1a1a" stroke-width="1.1"/>
<rect x="500.40" y="1030.90" width="7" height="5.3" fill="none" stroke="#1a1a1a" stroke-width="1.1"/>
<text transform="translate(113.40,1029.90) scale(0.9870,1)" font-size="19.3" text-anchor="end" fill="#111" font-weight="bold">NL=350</text>
<rect x="128.50" y="1108.60" width="440.00" height="48.60" fill="#fff" stroke="none"/>
<line x1="128.50" y1="1108.60" x2="568.50" y2="1108.60" stroke="#1a1a1a" stroke-width="1.5"/>
<line x1="128.50" y1="1113.80" x2="568.50" y2="1113.80" stroke="#1a1a1a" stroke-width="1.4"/>
<line x1="128.50" y1="1152.60" x2="568.50" y2="1152.60" stroke="#1a1a1a" stroke-width="1.4"/>
<line x1="128.50" y1="1157.20" x2="568.50" y2="1157.20" stroke="#1a1a1a" stroke-width="1.6"/>
<line x1="128.50" y1="1108.60" x2="128.50" y2="1157.20" stroke="#1a1a1a" stroke-width="1.3"/>
<line x1="568.50" y1="1108.60" x2="568.50" y2="1157.20" stroke="#1a1a1a" stroke-width="1.5"/>
<rect x="132.60" y="1114.70" width="6" height="5.5" fill="none" stroke="#1a1a1a" stroke-width="1.1"/>
<rect x="132.60" y="1146.20" width="6" height="5.5" fill="none" stroke="#1a1a1a" stroke-width="1.1"/>
<circle cx="135.30" cy="1133.00" r="2.6" fill="none" stroke="#1a1a1a" stroke-width="1.1"/>
<path d="M191.20,1121.60 L157.40,1121.60 Q154.20,1121.60 154.20,1124.80 L154.20,1141.80 Q154.20,1145.00 157.40,1145.00 L191.20,1145.00 L192.70,1143.40 L191.20,1141.20 L161.30,1141.20 Q158.10,1141.20 158.10,1138.00 L158.10,1127.90 Q158.10,1124.70 161.30,1124.70 L191.20,1124.70 L192.70,1123.20 Z" fill="none" stroke="#1a1a1a" stroke-width="1.1" stroke-linejoin="round" stroke-linecap="round"/>
<circle cx="167.00" cy="1133.00" r="3.9" fill="none" stroke="#1a1a1a" stroke-width="1.1"/>
<rect x="179.10" y="1130.40" width="11.8" height="5.2" rx="2.6" fill="none" stroke="#1a1a1a" stroke-width="1.1"/>
<path d="M261.60,1121.60 L227.80,1121.60 Q224.60,1121.60 224.60,1124.80 L224.60,1141.80 Q224.60,1145.00 227.80,1145.00 L261.60,1145.00 L263.10,1143.40 L261.60,1141.20 L231.70,1141.20 Q228.50,1141.20 228.50,1138.00 L228.50,1127.90 Q228.50,1124.70 231.70,1124.70 L261.60,1124.70 L263.10,1123.20 Z" fill="none" stroke="#1a1a1a" stroke-width="1.1" stroke-linejoin="round" stroke-linecap="round"/>
<circle cx="237.40" cy="1133.00" r="3.9" fill="none" stroke="#1a1a1a" stroke-width="1.1"/>
<rect x="249.50" y="1130.40" width="11.8" height="5.2" rx="2.6" fill="none" stroke="#1a1a1a" stroke-width="1.1"/>
<path d="M367.20,1121.60 L333.40,1121.60 Q330.20,1121.60 330.20,1124.80 L330.20,1141.80 Q330.20,1145.00 333.40,1145.00 L367.20,1145.00 L368.70,1143.40 L367.20,1141.20 L337.30,1141.20 Q334.10,1141.20 334.10,1138.00 L334.10,1127.90 Q334.10,1124.70 337.30,1124.70 L367.20,1124.70 L368.70,1123.20 Z" fill="none" stroke="#1a1a1a" stroke-width="1.1" stroke-linejoin="round" stroke-linecap="round"/>
<circle cx="343.00" cy="1133.00" r="3.9" fill="none" stroke="#1a1a1a" stroke-width="1.1"/>
<circle cx="360.70" cy="1133.00" r="2.8" fill="none" stroke="#1a1a1a" stroke-width="1.1"/>
<path d="M412.30,1129.40 L417.70,1129.40 Q419.40,1129.40 419.40,1131.20 L419.40,1136.60 L411.80,1136.60" fill="none" stroke="#1a1a1a" stroke-width="1.2"/>
<line x1="412.90" y1="1129.40" x2="412.90" y2="1136.60" stroke="#1a1a1a" stroke-width="2.0"/>
<rect x="433.25" y="1129.90" width="20.5" height="6.2" rx="3.1" fill="none" stroke="#1a1a1a" stroke-width="1.1"/>
<path d="M516.50,1115.70 L493.20,1115.70 Q490.70,1115.70 490.70,1118.20 L490.70,1127.00 Q490.70,1129.50 493.20,1129.50 L516.50,1129.50 L518.00,1128.50 L516.50,1127.50 L497.00,1127.50 Q494.50,1127.50 494.50,1125.00 L494.50,1120.40 Q494.50,1117.90 497.00,1117.90 L516.50,1117.90 L518.00,1116.70 Z" fill="#b4b4b4" stroke="#1a1a1a" stroke-width="1.1" stroke-linejoin="round" stroke-linecap="round"/>
<rect x="495.10" y="1118.50" width="22.90" height="8.40" fill="#fff"/>
<rect x="491.50" y="1118.10" width="2.40" height="9.20" fill="#fff"/>
<path d="M516.50,1117.90 L497.00,1117.90 Q494.50,1117.90 494.50,1120.40 L494.50,1125.00 Q494.50,1127.50 497.00,1127.50 L516.50,1127.50" fill="none" stroke="#1a1a1a" stroke-width="1.0" stroke-linejoin="round" stroke-linecap="round"/>
<circle cx="502.50" cy="1122.90" r="2.5" fill="#fff" stroke="#1a1a1a" stroke-width="1.1"/>
<path d="M516.50,1135.60 L493.20,1135.60 Q490.70,1135.60 490.70,1138.10 L490.70,1147.50 Q490.70,1150.00 493.20,1150.00 L516.50,1150.00 L518.00,1149.00 L516.50,1148.00 L497.00,1148.00 Q494.50,1148.00 494.50,1145.50 L494.50,1140.30 Q494.50,1137.80 497.00,1137.80 L516.50,1137.80 L518.00,1136.60 Z" fill="#b4b4b4" stroke="#1a1a1a" stroke-width="1.1" stroke-linejoin="round" stroke-linecap="round"/>
<rect x="495.10" y="1138.40" width="22.90" height="9.00" fill="#fff"/>
<rect x="491.50" y="1138.00" width="2.40" height="9.80" fill="#fff"/>
<path d="M516.50,1137.80 L497.00,1137.80 Q494.50,1137.80 494.50,1140.30 L494.50,1145.50 Q494.50,1148.00 497.00,1148.00 L516.50,1148.00" fill="none" stroke="#1a1a1a" stroke-width="1.0" stroke-linejoin="round" stroke-linecap="round"/>
<circle cx="502.50" cy="1142.70" r="2.5" fill="#fff" stroke="#1a1a1a" stroke-width="1.1"/>
<rect x="555.40" y="1119.70" width="7" height="5.3" fill="none" stroke="#1a1a1a" stroke-width="1.1"/>
<rect x="555.40" y="1141.00" width="7" height="5.3" fill="none" stroke="#1a1a1a" stroke-width="1.1"/>
<text transform="translate(114.40,1140.00) scale(0.9870,1)" font-size="19.3" text-anchor="end" fill="#111" font-weight="bold">NL=400</text>
<rect x="128.50" y="1222.00" width="495.00" height="48.60" fill="#fff" stroke="none"/>
<line x1="128.50" y1="1222.00" x2="623.50" y2="1222.00" stroke="#1a1a1a" stroke-width="1.5"/>
<line x1="128.50" y1="1227.20" x2="623.50" y2="1227.20" stroke="#1a1a1a" stroke-width="1.4"/>
<line x1="128.50" y1="1266.00" x2="623.50" y2="1266.00" stroke="#1a1a1a" stroke-width="1.4"/>
<line x1="128.50" y1="1270.60" x2="623.50" y2="1270.60" stroke="#1a1a1a" stroke-width="1.6"/>
<line x1="128.50" y1="1222.00" x2="128.50" y2="1270.60" stroke="#1a1a1a" stroke-width="1.3"/>
<line x1="623.50" y1="1222.00" x2="623.50" y2="1270.60" stroke="#1a1a1a" stroke-width="1.5"/>
<rect x="132.60" y="1228.10" width="6" height="5.5" fill="none" stroke="#1a1a1a" stroke-width="1.1"/>
<rect x="132.60" y="1259.60" width="6" height="5.5" fill="none" stroke="#1a1a1a" stroke-width="1.1"/>
<circle cx="135.30" cy="1246.40" r="2.6" fill="none" stroke="#1a1a1a" stroke-width="1.1"/>
<path d="M191.20,1235.00 L157.40,1235.00 Q154.20,1235.00 154.20,1238.20 L154.20,1255.20 Q154.20,1258.40 157.40,1258.40 L191.20,1258.40 L192.70,1256.80 L191.20,1254.60 L161.30,1254.60 Q158.10,1254.60 158.10,1251.40 L158.10,1241.30 Q158.10,1238.10 161.30,1238.10 L191.20,1238.10 L192.70,1236.60 Z" fill="none" stroke="#1a1a1a" stroke-width="1.1" stroke-linejoin="round" stroke-linecap="round"/>
<circle cx="167.00" cy="1246.40" r="3.9" fill="none" stroke="#1a1a1a" stroke-width="1.1"/>
<rect x="179.10" y="1243.80" width="11.8" height="5.2" rx="2.6" fill="none" stroke="#1a1a1a" stroke-width="1.1"/>
<path d="M261.60,1235.00 L227.80,1235.00 Q224.60,1235.00 224.60,1238.20 L224.60,1255.20 Q224.60,1258.40 227.80,1258.40 L261.60,1258.40 L263.10,1256.80 L261.60,1254.60 L231.70,1254.60 Q228.50,1254.60 228.50,1251.40 L228.50,1241.30 Q228.50,1238.10 231.70,1238.10 L261.60,1238.10 L263.10,1236.60 Z" fill="none" stroke="#1a1a1a" stroke-width="1.1" stroke-linejoin="round" stroke-linecap="round"/>
<circle cx="237.40" cy="1246.40" r="3.9" fill="none" stroke="#1a1a1a" stroke-width="1.1"/>
<rect x="249.50" y="1243.80" width="11.8" height="5.2" rx="2.6" fill="none" stroke="#1a1a1a" stroke-width="1.1"/>
<path d="M367.20,1235.00 L333.40,1235.00 Q330.20,1235.00 330.20,1238.20 L330.20,1255.20 Q330.20,1258.40 333.40,1258.40 L367.20,1258.40 L368.70,1256.80 L367.20,1254.60 L337.30,1254.60 Q334.10,1254.60 334.10,1251.40 L334.10,1241.30 Q334.10,1238.10 337.30,1238.10 L367.20,1238.10 L368.70,1236.60 Z" fill="none" stroke="#1a1a1a" stroke-width="1.1" stroke-linejoin="round" stroke-linecap="round"/>
<circle cx="343.00" cy="1246.40" r="3.9" fill="none" stroke="#1a1a1a" stroke-width="1.1"/>
<circle cx="360.70" cy="1246.40" r="2.8" fill="none" stroke="#1a1a1a" stroke-width="1.1"/>
<path d="M437.60,1235.00 L403.80,1235.00 Q400.60,1235.00 400.60,1238.20 L400.60,1255.20 Q400.60,1258.40 403.80,1258.40 L437.60,1258.40 L439.10,1256.80 L437.60,1254.60 L407.70,1254.60 Q404.50,1254.60 404.50,1251.40 L404.50,1241.30 Q404.50,1238.10 407.70,1238.10 L437.60,1238.10 L439.10,1236.60 Z" fill="none" stroke="#1a1a1a" stroke-width="1.1" stroke-linejoin="round" stroke-linecap="round"/>
<circle cx="413.40" cy="1246.40" r="3.9" fill="none" stroke="#1a1a1a" stroke-width="1.1"/>
<circle cx="431.10" cy="1246.40" r="2.8" fill="none" stroke="#1a1a1a" stroke-width="1.1"/>
<path d="M467.30,1242.80 L472.70,1242.80 Q474.40,1242.80 474.40,1244.60 L474.40,1250.00 L466.80,1250.00" fill="none" stroke="#1a1a1a" stroke-width="1.2"/>
<line x1="467.90" y1="1242.80" x2="467.90" y2="1250.00" stroke="#1a1a1a" stroke-width="2.0"/>
<rect x="488.25" y="1243.30" width="20.5" height="6.2" rx="3.1" fill="none" stroke="#1a1a1a" stroke-width="1.1"/>
<path d="M571.50,1229.10 L548.20,1229.10 Q545.70,1229.10 545.70,1231.60 L545.70,1240.40 Q545.70,1242.90 548.20,1242.90 L571.50,1242.90 L573.00,1241.90 L571.50,1240.90 L552.00,1240.90 Q549.50,1240.90 549.50,1238.40 L549.50,1233.80 Q549.50,1231.30 552.00,1231.30 L571.50,1231.30 L573.00,1230.10 Z" fill="#b4b4b4" stroke="#1a1a1a" stroke-width="1.1" stroke-linejoin="round" stroke-linecap="round"/>
<rect x="550.10" y="1231.90" width="22.90" height="8.40" fill="#fff"/>
<rect x="546.50" y="1231.50" width="2.40" height="9.20" fill="#fff"/>
<path d="M571.50,1231.30 L552.00,1231.30 Q549.50,1231.30 549.50,1233.80 L549.50,1238.40 Q549.50,1240.90 552.00,1240.90 L571.50,1240.90" fill="none" stroke="#1a1a1a" stroke-width="1.0" stroke-linejoin="round" stroke-linecap="round"/>
<circle cx="557.50" cy="1236.30" r="2.5" fill="#fff" stroke="#1a1a1a" stroke-width="1.1"/>
<path d="M571.50,1249.00 L548.20,1249.00 Q545.70,1249.00 545.70,1251.50 L545.70,1260.90 Q545.70,1263.40 548.20,1263.40 L571.50,1263.40 L573.00,1262.40 L571.50,1261.40 L552.00,1261.40 Q549.50,1261.40 549.50,1258.90 L549.50,1253.70 Q549.50,1251.20 552.00,1251.20 L571.50,1251.20 L573.00,1250.00 Z" fill="#b4b4b4" stroke="#1a1a1a" stroke-width="1.1" stroke-linejoin="round" stroke-linecap="round"/>
<rect x="550.10" y="1251.80" width="22.90" height="9.00" fill="#fff"/>
<rect x="546.50" y="1251.40" width="2.40" height="9.80" fill="#fff"/>
<path d="M571.50,1251.20 L552.00,1251.20 Q549.50,1251.20 549.50,1253.70 L549.50,1258.90 Q549.50,1261.40 552.00,1261.40 L571.50,1261.40" fill="none" stroke="#1a1a1a" stroke-width="1.0" stroke-linejoin="round" stroke-linecap="round"/>
<circle cx="557.50" cy="1256.10" r="2.5" fill="#fff" stroke="#1a1a1a" stroke-width="1.1"/>
<rect x="610.40" y="1233.10" width="7" height="5.3" fill="none" stroke="#1a1a1a" stroke-width="1.1"/>
<rect x="610.40" y="1254.40" width="7" height="5.3" fill="none" stroke="#1a1a1a" stroke-width="1.1"/>
<text transform="translate(112.70,1253.40) scale(0.9870,1)" font-size="19.3" text-anchor="end" fill="#111" font-weight="bold">NL=450</text>
<rect x="128.50" y="1335.20" width="550.00" height="48.60" fill="#fff" stroke="none"/>
<line x1="128.50" y1="1335.20" x2="678.50" y2="1335.20" stroke="#1a1a1a" stroke-width="1.5"/>
<line x1="128.50" y1="1340.40" x2="678.50" y2="1340.40" stroke="#1a1a1a" stroke-width="1.4"/>
<line x1="128.50" y1="1379.20" x2="678.50" y2="1379.20" stroke="#1a1a1a" stroke-width="1.4"/>
<line x1="128.50" y1="1383.80" x2="678.50" y2="1383.80" stroke="#1a1a1a" stroke-width="1.6"/>
<line x1="128.50" y1="1335.20" x2="128.50" y2="1383.80" stroke="#1a1a1a" stroke-width="1.3"/>
<line x1="678.50" y1="1335.20" x2="678.50" y2="1383.80" stroke="#1a1a1a" stroke-width="1.5"/>
<rect x="132.60" y="1341.30" width="6" height="5.5" fill="none" stroke="#1a1a1a" stroke-width="1.1"/>
<rect x="132.60" y="1372.80" width="6" height="5.5" fill="none" stroke="#1a1a1a" stroke-width="1.1"/>
<circle cx="135.30" cy="1359.60" r="2.6" fill="none" stroke="#1a1a1a" stroke-width="1.1"/>
<path d="M191.20,1348.20 L157.40,1348.20 Q154.20,1348.20 154.20,1351.40 L154.20,1368.40 Q154.20,1371.60 157.40,1371.60 L191.20,1371.60 L192.70,1370.00 L191.20,1367.80 L161.30,1367.80 Q158.10,1367.80 158.10,1364.60 L158.10,1354.50 Q158.10,1351.30 161.30,1351.30 L191.20,1351.30 L192.70,1349.80 Z" fill="none" stroke="#1a1a1a" stroke-width="1.1" stroke-linejoin="round" stroke-linecap="round"/>
<circle cx="167.00" cy="1359.60" r="3.9" fill="none" stroke="#1a1a1a" stroke-width="1.1"/>
<rect x="179.10" y="1357.00" width="11.8" height="5.2" rx="2.6" fill="none" stroke="#1a1a1a" stroke-width="1.1"/>
<path d="M261.60,1348.20 L227.80,1348.20 Q224.60,1348.20 224.60,1351.40 L224.60,1368.40 Q224.60,1371.60 227.80,1371.60 L261.60,1371.60 L263.10,1370.00 L261.60,1367.80 L231.70,1367.80 Q228.50,1367.80 228.50,1364.60 L228.50,1354.50 Q228.50,1351.30 231.70,1351.30 L261.60,1351.30 L263.10,1349.80 Z" fill="none" stroke="#1a1a1a" stroke-width="1.1" stroke-linejoin="round" stroke-linecap="round"/>
<circle cx="237.40" cy="1359.60" r="3.9" fill="none" stroke="#1a1a1a" stroke-width="1.1"/>
<rect x="249.50" y="1357.00" width="11.8" height="5.2" rx="2.6" fill="none" stroke="#1a1a1a" stroke-width="1.1"/>
<path d="M402.40,1348.20 L368.60,1348.20 Q365.40,1348.20 365.40,1351.40 L365.40,1368.40 Q365.40,1371.60 368.60,1371.60 L402.40,1371.60 L403.90,1370.00 L402.40,1367.80 L372.50,1367.80 Q369.30,1367.80 369.30,1364.60 L369.30,1354.50 Q369.30,1351.30 372.50,1351.30 L402.40,1351.30 L403.90,1349.80 Z" fill="none" stroke="#1a1a1a" stroke-width="1.1" stroke-linejoin="round" stroke-linecap="round"/>
<circle cx="378.20" cy="1359.60" r="3.9" fill="none" stroke="#1a1a1a" stroke-width="1.1"/>
<circle cx="395.90" cy="1359.60" r="2.8" fill="none" stroke="#1a1a1a" stroke-width="1.1"/>
<path d="M508.00,1348.20 L474.20,1348.20 Q471.00,1348.20 471.00,1351.40 L471.00,1368.40 Q471.00,1371.60 474.20,1371.60 L508.00,1371.60 L509.50,1370.00 L508.00,1367.80 L478.10,1367.80 Q474.90,1367.80 474.90,1364.60 L474.90,1354.50 Q474.90,1351.30 478.10,1351.30 L508.00,1351.30 L509.50,1349.80 Z" fill="none" stroke="#1a1a1a" stroke-width="1.1" stroke-linejoin="round" stroke-linecap="round"/>
<circle cx="483.80" cy="1359.60" r="3.9" fill="none" stroke="#1a1a1a" stroke-width="1.1"/>
<circle cx="501.50" cy="1359.60" r="2.8" fill="none" stroke="#1a1a1a" stroke-width="1.1"/>
<path d="M522.30,1356.00 L527.70,1356.00 Q529.40,1356.00 529.40,1357.80 L529.40,1363.20 L521.80,1363.20" fill="none" stroke="#1a1a1a" stroke-width="1.2"/>
<line x1="522.90" y1="1356.00" x2="522.90" y2="1363.20" stroke="#1a1a1a" stroke-width="2.0"/>
<rect x="543.25" y="1356.50" width="20.5" height="6.2" rx="3.1" fill="none" stroke="#1a1a1a" stroke-width="1.1"/>
<path d="M626.50,1342.30 L603.20,1342.30 Q600.70,1342.30 600.70,1344.80 L600.70,1353.60 Q600.70,1356.10 603.20,1356.10 L626.50,1356.10 L628.00,1355.10 L626.50,1354.10 L607.00,1354.10 Q604.50,1354.10 604.50,1351.60 L604.50,1347.00 Q604.50,1344.50 607.00,1344.50 L626.50,1344.50 L628.00,1343.30 Z" fill="#b4b4b4" stroke="#1a1a1a" stroke-width="1.1" stroke-linejoin="round" stroke-linecap="round"/>
<rect x="605.10" y="1345.10" width="22.90" height="8.40" fill="#fff"/>
<rect x="601.50" y="1344.70" width="2.40" height="9.20" fill="#fff"/>
<path d="M626.50,1344.50 L607.00,1344.50 Q604.50,1344.50 604.50,1347.00 L604.50,1351.60 Q604.50,1354.10 607.00,1354.10 L626.50,1354.10" fill="none" stroke="#1a1a1a" stroke-width="1.0" stroke-linejoin="round" stroke-linecap="round"/>
<circle cx="612.50" cy="1349.50" r="2.5" fill="#fff" stroke="#1a1a1a" stroke-width="1.1"/>
<path d="M626.50,1362.20 L603.20,1362.20 Q600.70,1362.20 600.70,1364.70 L600.70,1374.10 Q600.70,1376.60 603.20,1376.60 L626.50,1376.60 L628.00,1375.60 L626.50,1374.60 L607.00,1374.60 Q604.50,1374.60 604.50,1372.10 L604.50,1366.90 Q604.50,1364.40 607.00,1364.40 L626.50,1364.40 L628.00,1363.20 Z" fill="#b4b4b4" stroke="#1a1a1a" stroke-width="1.1" stroke-linejoin="round" stroke-linecap="round"/>
<rect x="605.10" y="1365.00" width="22.90" height="9.00" fill="#fff"/>
<rect x="601.50" y="1364.60" width="2.40" height="9.80" fill="#fff"/>
<path d="M626.50,1364.40 L607.00,1364.40 Q604.50,1364.40 604.50,1366.90 L604.50,1372.10 Q604.50,1374.60 607.00,1374.60 L626.50,1374.60" fill="none" stroke="#1a1a1a" stroke-width="1.0" stroke-linejoin="round" stroke-linecap="round"/>
<circle cx="612.50" cy="1369.30" r="2.5" fill="#fff" stroke="#1a1a1a" stroke-width="1.1"/>
<rect x="665.40" y="1346.30" width="7" height="5.3" fill="none" stroke="#1a1a1a" stroke-width="1.1"/>
<rect x="665.40" y="1367.60" width="7" height="5.3" fill="none" stroke="#1a1a1a" stroke-width="1.1"/>
<text transform="translate(114.00,1366.60) scale(0.9870,1)" font-size="19.3" text-anchor="end" fill="#111" font-weight="bold">NL=500</text>
<rect x="128.50" y="1447.60" width="605.00" height="48.60" fill="#fff" stroke="none"/>
<line x1="128.50" y1="1447.60" x2="733.50" y2="1447.60" stroke="#1a1a1a" stroke-width="1.5"/>
<line x1="128.50" y1="1452.80" x2="733.50" y2="1452.80" stroke="#1a1a1a" stroke-width="1.4"/>
<line x1="128.50" y1="1491.60" x2="733.50" y2="1491.60" stroke="#1a1a1a" stroke-width="1.4"/>
<line x1="128.50" y1="1496.20" x2="733.50" y2="1496.20" stroke="#1a1a1a" stroke-width="1.6"/>
<line x1="128.50" y1="1447.60" x2="128.50" y2="1496.20" stroke="#1a1a1a" stroke-width="1.3"/>
<line x1="733.50" y1="1447.60" x2="733.50" y2="1496.20" stroke="#1a1a1a" stroke-width="1.5"/>
<rect x="132.60" y="1453.70" width="6" height="5.5" fill="none" stroke="#1a1a1a" stroke-width="1.1"/>
<rect x="132.60" y="1485.20" width="6" height="5.5" fill="none" stroke="#1a1a1a" stroke-width="1.1"/>
<circle cx="135.30" cy="1472.00" r="2.6" fill="none" stroke="#1a1a1a" stroke-width="1.1"/>
<path d="M191.20,1460.60 L157.40,1460.60 Q154.20,1460.60 154.20,1463.80 L154.20,1480.80 Q154.20,1484.00 157.40,1484.00 L191.20,1484.00 L192.70,1482.40 L191.20,1480.20 L161.30,1480.20 Q158.10,1480.20 158.10,1477.00 L158.10,1466.90 Q158.10,1463.70 161.30,1463.70 L191.20,1463.70 L192.70,1462.20 Z" fill="none" stroke="#1a1a1a" stroke-width="1.1" stroke-linejoin="round" stroke-linecap="round"/>
<circle cx="167.00" cy="1472.00" r="3.9" fill="none" stroke="#1a1a1a" stroke-width="1.1"/>
<rect x="179.10" y="1469.40" width="11.8" height="5.2" rx="2.6" fill="none" stroke="#1a1a1a" stroke-width="1.1"/>
<path d="M261.60,1460.60 L227.80,1460.60 Q224.60,1460.60 224.60,1463.80 L224.60,1480.80 Q224.60,1484.00 227.80,1484.00 L261.60,1484.00 L263.10,1482.40 L261.60,1480.20 L231.70,1480.20 Q228.50,1480.20 228.50,1477.00 L228.50,1466.90 Q228.50,1463.70 231.70,1463.70 L261.60,1463.70 L263.10,1462.20 Z" fill="none" stroke="#1a1a1a" stroke-width="1.1" stroke-linejoin="round" stroke-linecap="round"/>
<circle cx="237.40" cy="1472.00" r="3.9" fill="none" stroke="#1a1a1a" stroke-width="1.1"/>
<rect x="249.50" y="1469.40" width="11.8" height="5.2" rx="2.6" fill="none" stroke="#1a1a1a" stroke-width="1.1"/>
<path d="M437.60,1460.60 L403.80,1460.60 Q400.60,1460.60 400.60,1463.80 L400.60,1480.80 Q400.60,1484.00 403.80,1484.00 L437.60,1484.00 L439.10,1482.40 L437.60,1480.20 L407.70,1480.20 Q404.50,1480.20 404.50,1477.00 L404.50,1466.90 Q404.50,1463.70 407.70,1463.70 L437.60,1463.70 L439.10,1462.20 Z" fill="none" stroke="#1a1a1a" stroke-width="1.1" stroke-linejoin="round" stroke-linecap="round"/>
<circle cx="413.40" cy="1472.00" r="3.9" fill="none" stroke="#1a1a1a" stroke-width="1.1"/>
<circle cx="431.10" cy="1472.00" r="2.8" fill="none" stroke="#1a1a1a" stroke-width="1.1"/>
<path d="M543.20,1460.60 L509.40,1460.60 Q506.20,1460.60 506.20,1463.80 L506.20,1480.80 Q506.20,1484.00 509.40,1484.00 L543.20,1484.00 L544.70,1482.40 L543.20,1480.20 L513.30,1480.20 Q510.10,1480.20 510.10,1477.00 L510.10,1466.90 Q510.10,1463.70 513.30,1463.70 L543.20,1463.70 L544.70,1462.20 Z" fill="none" stroke="#1a1a1a" stroke-width="1.1" stroke-linejoin="round" stroke-linecap="round"/>
<circle cx="519.00" cy="1472.00" r="3.9" fill="none" stroke="#1a1a1a" stroke-width="1.1"/>
<circle cx="536.70" cy="1472.00" r="2.8" fill="none" stroke="#1a1a1a" stroke-width="1.1"/>
<path d="M577.30,1468.40 L582.70,1468.40 Q584.40,1468.40 584.40,1470.20 L584.40,1475.60 L576.80,1475.60" fill="none" stroke="#1a1a1a" stroke-width="1.2"/>
<line x1="577.90" y1="1468.40" x2="577.90" y2="1475.60" stroke="#1a1a1a" stroke-width="2.0"/>
<rect x="598.25" y="1468.90" width="20.5" height="6.2" rx="3.1" fill="none" stroke="#1a1a1a" stroke-width="1.1"/>
<path d="M681.50,1454.70 L658.20,1454.70 Q655.70,1454.70 655.70,1457.20 L655.70,1466.00 Q655.70,1468.50 658.20,1468.50 L681.50,1468.50 L683.00,1467.50 L681.50,1466.50 L662.00,1466.50 Q659.50,1466.50 659.50,1464.00 L659.50,1459.40 Q659.50,1456.90 662.00,1456.90 L681.50,1456.90 L683.00,1455.70 Z" fill="#b4b4b4" stroke="#1a1a1a" stroke-width="1.1" stroke-linejoin="round" stroke-linecap="round"/>
<rect x="660.10" y="1457.50" width="22.90" height="8.40" fill="#fff"/>
<rect x="656.50" y="1457.10" width="2.40" height="9.20" fill="#fff"/>
<path d="M681.50,1456.90 L662.00,1456.90 Q659.50,1456.90 659.50,1459.40 L659.50,1464.00 Q659.50,1466.50 662.00,1466.50 L681.50,1466.50" fill="none" stroke="#1a1a1a" stroke-width="1.0" stroke-linejoin="round" stroke-linecap="round"/>
<circle cx="667.50" cy="1461.90" r="2.5" fill="#fff" stroke="#1a1a1a" stroke-width="1.1"/>
<path d="M681.50,1474.60 L658.20,1474.60 Q655.70,1474.60 655.70,1477.10 L655.70,1486.50 Q655.70,1489.00 658.20,1489.00 L681.50,1489.00 L683.00,1488.00 L681.50,1487.00 L662.00,1487.00 Q659.50,1487.00 659.50,1484.50 L659.50,1479.30 Q659.50,1476.80 662.00,1476.80 L681.50,1476.80 L683.00,1475.60 Z" fill="#b4b4b4" stroke="#1a1a1a" stroke-width="1.1" stroke-linejoin="round" stroke-linecap="round"/>
<rect x="660.10" y="1477.40" width="22.90" height="9.00" fill="#fff"/>
<rect x="656.50" y="1477.00" width="2.40" height="9.80" fill="#fff"/>
<path d="M681.50,1476.80 L662.00,1476.80 Q659.50,1476.80 659.50,1479.30 L659.50,1484.50 Q659.50,1487.00 662.00,1487.00 L681.50,1487.00" fill="none" stroke="#1a1a1a" stroke-width="1.0" stroke-linejoin="round" stroke-linecap="round"/>
<circle cx="667.50" cy="1481.70" r="2.5" fill="#fff" stroke="#1a1a1a" stroke-width="1.1"/>
<rect x="720.40" y="1458.70" width="7" height="5.3" fill="none" stroke="#1a1a1a" stroke-width="1.1"/>
<rect x="720.40" y="1480.00" width="7" height="5.3" fill="none" stroke="#1a1a1a" stroke-width="1.1"/>
<text transform="translate(115.20,1479.00) scale(0.9870,1)" font-size="19.3" text-anchor="end" fill="#111" font-weight="bold">NL=550</text>
<rect x="128.50" y="1565.10" width="660.00" height="48.60" fill="#fff" stroke="none"/>
<line x1="128.50" y1="1565.10" x2="788.50" y2="1565.10" stroke="#1a1a1a" stroke-width="1.5"/>
<line x1="128.50" y1="1570.30" x2="788.50" y2="1570.30" stroke="#1a1a1a" stroke-width="1.4"/>
<line x1="128.50" y1="1609.10" x2="788.50" y2="1609.10" stroke="#1a1a1a" stroke-width="1.4"/>
<line x1="128.50" y1="1613.70" x2="788.50" y2="1613.70" stroke="#1a1a1a" stroke-width="1.6"/>
<line x1="128.50" y1="1565.10" x2="128.50" y2="1613.70" stroke="#1a1a1a" stroke-width="1.3"/>
<line x1="788.50" y1="1565.10" x2="788.50" y2="1613.70" stroke="#1a1a1a" stroke-width="1.5"/>
<rect x="132.60" y="1571.20" width="6" height="5.5" fill="none" stroke="#1a1a1a" stroke-width="1.1"/>
<rect x="132.60" y="1602.70" width="6" height="5.5" fill="none" stroke="#1a1a1a" stroke-width="1.1"/>
<circle cx="135.30" cy="1589.50" r="2.6" fill="none" stroke="#1a1a1a" stroke-width="1.1"/>
<path d="M191.20,1578.10 L157.40,1578.10 Q154.20,1578.10 154.20,1581.30 L154.20,1598.30 Q154.20,1601.50 157.40,1601.50 L191.20,1601.50 L192.70,1599.90 L191.20,1597.70 L161.30,1597.70 Q158.10,1597.70 158.10,1594.50 L158.10,1584.40 Q158.10,1581.20 161.30,1581.20 L191.20,1581.20 L192.70,1579.70 Z" fill="none" stroke="#1a1a1a" stroke-width="1.1" stroke-linejoin="round" stroke-linecap="round"/>
<circle cx="167.00" cy="1589.50" r="3.9" fill="none" stroke="#1a1a1a" stroke-width="1.1"/>
<rect x="179.10" y="1586.90" width="11.8" height="5.2" rx="2.6" fill="none" stroke="#1a1a1a" stroke-width="1.1"/>
<path d="M261.60,1578.10 L227.80,1578.10 Q224.60,1578.10 224.60,1581.30 L224.60,1598.30 Q224.60,1601.50 227.80,1601.50 L261.60,1601.50 L263.10,1599.90 L261.60,1597.70 L231.70,1597.70 Q228.50,1597.70 228.50,1594.50 L228.50,1584.40 Q228.50,1581.20 231.70,1581.20 L261.60,1581.20 L263.10,1579.70 Z" fill="none" stroke="#1a1a1a" stroke-width="1.1" stroke-linejoin="round" stroke-linecap="round"/>
<circle cx="237.40" cy="1589.50" r="3.9" fill="none" stroke="#1a1a1a" stroke-width="1.1"/>
<rect x="249.50" y="1586.90" width="11.8" height="5.2" rx="2.6" fill="none" stroke="#1a1a1a" stroke-width="1.1"/>
<path d="M472.80,1578.10 L439.00,1578.10 Q435.80,1578.10 435.80,1581.30 L435.80,1598.30 Q435.80,1601.50 439.00,1601.50 L472.80,1601.50 L474.30,1599.90 L472.80,1597.70 L442.90,1597.70 Q439.70,1597.70 439.70,1594.50 L439.70,1584.40 Q439.70,1581.20 442.90,1581.20 L472.80,1581.20 L474.30,1579.70 Z" fill="none" stroke="#1a1a1a" stroke-width="1.1" stroke-linejoin="round" stroke-linecap="round"/>
<circle cx="448.60" cy="1589.50" r="3.9" fill="none" stroke="#1a1a1a" stroke-width="1.1"/>
<circle cx="466.30" cy="1589.50" r="2.8" fill="none" stroke="#1a1a1a" stroke-width="1.1"/>
<path d="M613.60,1578.10 L579.80,1578.10 Q576.60,1578.10 576.60,1581.30 L576.60,1598.30 Q576.60,1601.50 579.80,1601.50 L613.60,1601.50 L615.10,1599.90 L613.60,1597.70 L583.70,1597.70 Q580.50,1597.70 580.50,1594.50 L580.50,1584.40 Q580.50,1581.20 583.70,1581.20 L613.60,1581.20 L615.10,1579.70 Z" fill="none" stroke="#1a1a1a" stroke-width="1.1" stroke-linejoin="round" stroke-linecap="round"/>
<circle cx="589.40" cy="1589.50" r="3.9" fill="none" stroke="#1a1a1a" stroke-width="1.1"/>
<circle cx="607.10" cy="1589.50" r="2.8" fill="none" stroke="#1a1a1a" stroke-width="1.1"/>
<path d="M632.30,1585.90 L637.70,1585.90 Q639.40,1585.90 639.40,1587.70 L639.40,1593.10 L631.80,1593.10" fill="none" stroke="#1a1a1a" stroke-width="1.2"/>
<line x1="632.90" y1="1585.90" x2="632.90" y2="1593.10" stroke="#1a1a1a" stroke-width="2.0"/>
<rect x="653.25" y="1586.40" width="20.5" height="6.2" rx="3.1" fill="none" stroke="#1a1a1a" stroke-width="1.1"/>
<path d="M736.50,1572.20 L713.20,1572.20 Q710.70,1572.20 710.70,1574.70 L710.70,1583.50 Q710.70,1586.00 713.20,1586.00 L736.50,1586.00 L738.00,1585.00 L736.50,1584.00 L717.00,1584.00 Q714.50,1584.00 714.50,1581.50 L714.50,1576.90 Q714.50,1574.40 717.00,1574.40 L736.50,1574.40 L738.00,1573.20 Z" fill="#b4b4b4" stroke="#1a1a1a" stroke-width="1.1" stroke-linejoin="round" stroke-linecap="round"/>
<rect x="715.10" y="1575.00" width="22.90" height="8.40" fill="#fff"/>
<rect x="711.50" y="1574.60" width="2.40" height="9.20" fill="#fff"/>
<path d="M736.50,1574.40 L717.00,1574.40 Q714.50,1574.40 714.50,1576.90 L714.50,1581.50 Q714.50,1584.00 717.00,1584.00 L736.50,1584.00" fill="none" stroke="#1a1a1a" stroke-width="1.0" stroke-linejoin="round" stroke-linecap="round"/>
<circle cx="722.50" cy="1579.40" r="2.5" fill="#fff" stroke="#1a1a1a" stroke-width="1.1"/>
<path d="M736.50,1592.10 L713.20,1592.10 Q710.70,1592.10 710.70,1594.60 L710.70,1604.00 Q710.70,1606.50 713.20,1606.50 L736.50,1606.50 L738.00,1605.50 L736.50,1604.50 L717.00,1604.50 Q714.50,1604.50 714.50,1602.00 L714.50,1596.80 Q714.50,1594.30 717.00,1594.30 L736.50,1594.30 L738.00,1593.10 Z" fill="#b4b4b4" stroke="#1a1a1a" stroke-width="1.1" stroke-linejoin="round" stroke-linecap="round"/>
<rect x="715.10" y="1594.90" width="22.90" height="9.00" fill="#fff"/>
<rect x="711.50" y="1594.50" width="2.40" height="9.80" fill="#fff"/>
<path d="M736.50,1594.30 L717.00,1594.30 Q714.50,1594.30 714.50,1596.80 L714.50,1602.00 Q714.50,1604.50 717.00,1604.50 L736.50,1604.50" fill="none" stroke="#1a1a1a" stroke-width="1.0" stroke-linejoin="round" stroke-linecap="round"/>
<circle cx="722.50" cy="1599.20" r="2.5" fill="#fff" stroke="#1a1a1a" stroke-width="1.1"/>
<rect x="775.40" y="1576.20" width="7" height="5.3" fill="none" stroke="#1a1a1a" stroke-width="1.1"/>
<rect x="775.40" y="1597.50" width="7" height="5.3" fill="none" stroke="#1a1a1a" stroke-width="1.1"/>
<text transform="translate(114.80,1596.50) scale(0.9870,1)" font-size="19.3" text-anchor="end" fill="#111" font-weight="bold">NL=600</text>
<line x1="124.00" y1="727.50" x2="124.00" y2="1736.40" stroke="#979797" stroke-width="1.8"/>
<line x1="124.00" y1="726.40" x2="145.80" y2="726.40" stroke="#111" stroke-width="1.1"/>
<polygon points="123.40,726.40 135.80,724.10 135.80,728.70" fill="#111"/>
<text transform="translate(150.60,732.10) scale(1.0035,1)" font-size="19.4" text-anchor="start" fill="#111">Krawędź korpusu</text>
<line x1="128.50" y1="846.00" x2="128.50" y2="1735.00" stroke="#65a09f" stroke-width="1.5"/>
<line x1="167.00" y1="772.00" x2="167.00" y2="1735.00" stroke="#65a09f" stroke-width="1.5"/>
<line x1="237.40" y1="821.80" x2="237.40" y2="1735.00" stroke="#65a09f" stroke-width="1.5"/>
<line x1="307.80" y1="1022.90" x2="307.80" y2="1642.00" stroke="#65a09f" stroke-width="1.5"/>
<line x1="343.00" y1="1133.00" x2="343.00" y2="1664.00" stroke="#65a09f" stroke-width="1.5"/>
<line x1="378.20" y1="1359.60" x2="378.20" y2="1686.00" stroke="#65a09f" stroke-width="1.5"/>
<line x1="413.40" y1="1246.40" x2="413.40" y2="1707.00" stroke="#65a09f" stroke-width="1.5"/>
<line x1="448.60" y1="1589.50" x2="448.60" y2="1735.00" stroke="#65a09f" stroke-width="1.5"/>
<line x1="589.40" y1="1589.50" x2="589.40" y2="1735.00" stroke="#65a09f" stroke-width="1.5"/>
<line x1="722.50" y1="1599.20" x2="722.50" y2="1735.00" stroke="#65a09f" stroke-width="1.5"/>
<line x1="359.50" y1="772.00" x2="359.50" y2="872.00" stroke="#65a09f" stroke-width="1.5"/>
<line x1="124.00" y1="777.00" x2="167.00" y2="777.00" stroke="#65a09f" stroke-width="1.5"/>
<polygon points="124.00,777.00 137.00,774.70 137.00,779.30" fill="#137676"/>
<polygon points="167.00,777.00 154.00,779.30 154.00,774.70" fill="#137676"/>
<text transform="translate(146.30,774.60) scale(0.8100,1)" font-size="20.5" text-anchor="middle" fill="#1b1b1b">37</text>
<line x1="167.00" y1="777.00" x2="359.50" y2="777.00" stroke="#65a09f" stroke-width="1.5"/>
<polygon points="167.00,777.00 180.00,774.70 180.00,779.30" fill="#137676"/>
<polygon points="359.50,777.00 346.50,779.30 346.50,774.70" fill="#137676"/>
<text transform="translate(268.00,774.60) scale(0.8100,1)" font-size="20.5" text-anchor="middle" fill="#1b1b1b">175</text>
<line x1="237.40" y1="868.10" x2="359.50" y2="868.10" stroke="#65a09f" stroke-width="1.5"/>
<polygon points="237.40,868.10 250.40,865.80 250.40,870.40" fill="#137676"/>
<polygon points="359.50,868.10 346.50,870.40 346.50,865.80" fill="#137676"/>
<text transform="translate(301.70,865.60) scale(0.8100,1)" font-size="20.5" text-anchor="middle" fill="#1b1b1b">111</text>
<line x1="359.50" y1="811.40" x2="428.00" y2="811.40" stroke="#8fbcbc" stroke-width="0.9"/>
<line x1="359.50" y1="831.30" x2="428.00" y2="831.30" stroke="#8fbcbc" stroke-width="0.9"/>
<line x1="424.50" y1="785.00" x2="424.50" y2="857.70" stroke="#65a09f" stroke-width="1.5"/>
<polygon points="424.50,811.40 422.20,798.40 426.80,798.40" fill="#137676"/>
<polygon points="424.50,831.30 426.80,844.30 422.20,844.30" fill="#137676"/>
<text transform="translate(444.50,821.80) rotate(-90) scale(0.8100,1)" font-size="20.5" text-anchor="middle" fill="#1b1b1b">18</text>
<line x1="346.50" y1="823.70" x2="407.50" y2="768.60" stroke="#65a09f" stroke-width="1.5"/>
<polygon points="361.43,809.66 369.53,799.24 372.62,802.65" fill="#137676"/>
<polygon points="357.57,813.14 349.47,823.56 346.38,820.15" fill="#137676"/>
<text transform="translate(393.50,779.00) rotate(-42.090830756146225) scale(0.8100,1)" font-size="20.5" text-anchor="middle" fill="#1b1b1b">Ø4,5</text>
<line x1="237.40" y1="926.60" x2="237.40" y2="975.90" stroke="#65a09f" stroke-width="1.5"/>
<line x1="414.50" y1="936.30" x2="414.50" y2="975.90" stroke="#65a09f" stroke-width="1.5"/>
<line x1="237.40" y1="971.90" x2="414.50" y2="971.90" stroke="#65a09f" stroke-width="1.5"/>
<polygon points="237.40,971.90 250.40,969.60 250.40,974.20" fill="#137676"/>
<polygon points="414.50,971.90 401.50,974.20 401.50,969.60" fill="#137676"/>
<text transform="translate(330.60,969.90) scale(0.8100,1)" font-size="20.5" text-anchor="middle" fill="#1b1b1b">161</text>
<line x1="307.80" y1="1022.90" x2="307.80" y2="1074.40" stroke="#65a09f" stroke-width="1.5"/>
<line x1="469.50" y1="1032.60" x2="469.50" y2="1074.40" stroke="#65a09f" stroke-width="1.5"/>
<line x1="307.80" y1="1070.40" x2="469.50" y2="1070.40" stroke="#65a09f" stroke-width="1.5"/>
<polygon points="307.80,1070.40 320.80,1068.10 320.80,1072.70" fill="#137676"/>
<polygon points="469.50,1070.40 456.50,1072.70 456.50,1068.10" fill="#137676"/>
<text transform="translate(388.80,1068.40) scale(0.8100,1)" font-size="20.5" text-anchor="middle" fill="#1b1b1b">147</text>
<line x1="343.00" y1="1133.00" x2="343.00" y2="1186.30" stroke="#65a09f" stroke-width="1.5"/>
<line x1="502.50" y1="1142.70" x2="502.50" y2="1186.30" stroke="#65a09f" stroke-width="1.5"/>
<line x1="343.00" y1="1182.30" x2="502.50" y2="1182.30" stroke="#65a09f" stroke-width="1.5"/>
<polygon points="343.00,1182.30 356.00,1180.00 356.00,1184.60" fill="#137676"/>
<polygon points="502.50,1182.30 489.50,1184.60 489.50,1180.00" fill="#137676"/>
<text transform="translate(427.50,1180.30) scale(0.8100,1)" font-size="20.5" text-anchor="middle" fill="#1b1b1b">145</text>
<line x1="343.00" y1="1246.40" x2="343.00" y2="1300.70" stroke="#65a09f" stroke-width="1.5"/>
<line x1="413.40" y1="1246.40" x2="413.40" y2="1300.70" stroke="#65a09f" stroke-width="1.5"/>
<line x1="343.00" y1="1296.70" x2="413.40" y2="1296.70" stroke="#65a09f" stroke-width="1.5"/>
<polygon points="343.00,1296.70 356.00,1294.40 356.00,1299.00" fill="#137676"/>
<polygon points="413.40,1296.70 400.40,1299.00 400.40,1294.40" fill="#137676"/>
<text transform="translate(378.40,1294.70) scale(0.8100,1)" font-size="20.5" text-anchor="middle" fill="#1b1b1b">64</text>
<line x1="413.40" y1="1246.40" x2="413.40" y2="1300.70" stroke="#65a09f" stroke-width="1.5"/>
<line x1="557.50" y1="1256.10" x2="557.50" y2="1300.70" stroke="#65a09f" stroke-width="1.5"/>
<line x1="413.40" y1="1296.70" x2="557.50" y2="1296.70" stroke="#65a09f" stroke-width="1.5"/>
<polygon points="413.40,1296.70 426.40,1294.40 426.40,1299.00" fill="#137676"/>
<polygon points="557.50,1296.70 544.50,1299.00 544.50,1294.40" fill="#137676"/>
<text transform="translate(485.40,1294.70) scale(0.8100,1)" font-size="20.5" text-anchor="middle" fill="#1b1b1b">131</text>
<line x1="378.20" y1="1359.60" x2="378.20" y2="1409.40" stroke="#65a09f" stroke-width="1.5"/>
<line x1="483.80" y1="1359.60" x2="483.80" y2="1409.40" stroke="#65a09f" stroke-width="1.5"/>
<line x1="378.20" y1="1405.40" x2="483.80" y2="1405.40" stroke="#65a09f" stroke-width="1.5"/>
<polygon points="378.20,1405.40 391.20,1403.10 391.20,1407.70" fill="#137676"/>
<polygon points="483.80,1405.40 470.80,1407.70 470.80,1403.10" fill="#137676"/>
<text transform="translate(433.80,1403.40) scale(0.8100,1)" font-size="20.5" text-anchor="middle" fill="#1b1b1b">96</text>
<line x1="483.80" y1="1359.60" x2="483.80" y2="1409.40" stroke="#65a09f" stroke-width="1.5"/>
<line x1="612.50" y1="1369.30" x2="612.50" y2="1409.40" stroke="#65a09f" stroke-width="1.5"/>
<line x1="483.80" y1="1405.40" x2="612.50" y2="1405.40" stroke="#65a09f" stroke-width="1.5"/>
<polygon points="483.80,1405.40 496.80,1403.10 496.80,1407.70" fill="#137676"/>
<polygon points="612.50,1405.40 599.50,1407.70 599.50,1403.10" fill="#137676"/>
<text transform="translate(551.70,1403.40) scale(0.8100,1)" font-size="20.5" text-anchor="middle" fill="#1b1b1b">117</text>
<line x1="413.40" y1="1472.00" x2="413.40" y2="1527.20" stroke="#65a09f" stroke-width="1.5"/>
<line x1="519.00" y1="1472.00" x2="519.00" y2="1527.20" stroke="#65a09f" stroke-width="1.5"/>
<line x1="413.40" y1="1523.20" x2="519.00" y2="1523.20" stroke="#65a09f" stroke-width="1.5"/>
<polygon points="413.40,1523.20 426.40,1520.90 426.40,1525.50" fill="#137676"/>
<polygon points="519.00,1523.20 506.00,1525.50 506.00,1520.90" fill="#137676"/>
<text transform="translate(468.60,1521.20) scale(0.8100,1)" font-size="20.5" text-anchor="middle" fill="#1b1b1b">96</text>
<line x1="519.00" y1="1472.00" x2="519.00" y2="1527.20" stroke="#65a09f" stroke-width="1.5"/>
<line x1="667.50" y1="1481.70" x2="667.50" y2="1527.20" stroke="#65a09f" stroke-width="1.5"/>
<line x1="519.00" y1="1523.20" x2="667.50" y2="1523.20" stroke="#65a09f" stroke-width="1.5"/>
<polygon points="519.00,1523.20 532.00,1520.90 532.00,1525.50" fill="#137676"/>
<polygon points="667.50,1523.20 654.50,1525.50 654.50,1520.90" fill="#137676"/>
<text transform="translate(597.50,1521.20) scale(0.8100,1)" font-size="20.5" text-anchor="middle" fill="#1b1b1b">135</text>
<line x1="237.40" y1="1638.20" x2="307.80" y2="1638.20" stroke="#65a09f" stroke-width="1.5"/>
<polygon points="237.40,1638.20 250.40,1635.90 250.40,1640.50" fill="#137676"/>
<polygon points="307.80,1638.20 294.80,1640.50 294.80,1635.90" fill="#137676"/>
<text transform="translate(272.20,1636.20) scale(0.8100,1)" font-size="20.5" text-anchor="middle" fill="#1b1b1b">64</text>
<line x1="237.40" y1="1660.40" x2="343.00" y2="1660.40" stroke="#65a09f" stroke-width="1.5"/>
<polygon points="237.40,1660.40 250.40,1658.10 250.40,1662.70" fill="#137676"/>
<polygon points="343.00,1660.40 330.00,1662.70 330.00,1658.10" fill="#137676"/>
<text transform="translate(290.20,1658.40) scale(0.8100,1)" font-size="20.5" text-anchor="middle" fill="#1b1b1b">96</text>
<line x1="237.40" y1="1682.70" x2="378.20" y2="1682.70" stroke="#65a09f" stroke-width="1.5"/>
<polygon points="237.40,1682.70 250.40,1680.40 250.40,1685.00" fill="#137676"/>
<polygon points="378.20,1682.70 365.20,1685.00 365.20,1680.40" fill="#137676"/>
<text transform="translate(307.00,1680.70) scale(0.8100,1)" font-size="20.5" text-anchor="middle" fill="#1b1b1b">128</text>
<line x1="237.40" y1="1703.70" x2="413.40" y2="1703.70" stroke="#65a09f" stroke-width="1.5"/>
<polygon points="237.40,1703.70 250.40,1701.40 250.40,1706.00" fill="#137676"/>
<polygon points="413.40,1703.70 400.40,1706.00 400.40,1701.40" fill="#137676"/>
<text transform="translate(324.60,1701.70) scale(0.8100,1)" font-size="20.5" text-anchor="middle" fill="#1b1b1b">160</text>
<line x1="103.50" y1="1730.00" x2="128.50" y2="1730.00" stroke="#65a09f" stroke-width="1.5"/>
<polygon points="124.00,1730.00 111.00,1732.30 111.00,1727.70" fill="#137676"/>
<text transform="translate(107.60,1726.50) scale(0.8100,1)" font-size="20.5" text-anchor="middle" fill="#1b1b1b">2</text>
<line x1="128.50" y1="1730.00" x2="167.00" y2="1730.00" stroke="#65a09f" stroke-width="1.5"/>
<polygon points="128.50,1730.00 141.50,1727.70 141.50,1732.30" fill="#137676"/>
<polygon points="167.00,1730.00 154.00,1732.30 154.00,1727.70" fill="#137676"/>
<text transform="translate(147.50,1726.50) scale(0.8100,1)" font-size="20.5" text-anchor="middle" fill="#1b1b1b">35</text>
<line x1="167.00" y1="1730.00" x2="237.40" y2="1730.00" stroke="#65a09f" stroke-width="1.5"/>
<polygon points="167.00,1730.00 180.00,1727.70 180.00,1732.30" fill="#137676"/>
<polygon points="237.40,1730.00 224.40,1732.30 224.40,1727.70" fill="#137676"/>
<text transform="translate(202.00,1726.50) scale(0.8100,1)" font-size="20.5" text-anchor="middle" fill="#1b1b1b">64</text>
<line x1="237.40" y1="1730.00" x2="448.60" y2="1730.00" stroke="#65a09f" stroke-width="1.5"/>
<polygon points="237.40,1730.00 250.40,1727.70 250.40,1732.30" fill="#137676"/>
<polygon points="448.60,1730.00 435.60,1732.30 435.60,1727.70" fill="#137676"/>
<text transform="translate(342.70,1726.50) scale(0.8100,1)" font-size="20.5" text-anchor="middle" fill="#1b1b1b">192</text>
<line x1="448.60" y1="1730.00" x2="589.40" y2="1730.00" stroke="#65a09f" stroke-width="1.5"/>
<polygon points="448.60,1730.00 461.60,1727.70 461.60,1732.30" fill="#137676"/>
<polygon points="589.40,1730.00 576.40,1732.30 576.40,1727.70" fill="#137676"/>
<text transform="translate(518.10,1726.50) scale(0.8100,1)" font-size="20.5" text-anchor="middle" fill="#1b1b1b">128</text>
<line x1="589.40" y1="1730.00" x2="722.50" y2="1730.00" stroke="#65a09f" stroke-width="1.5"/>
<polygon points="589.40,1730.00 602.40,1727.70 602.40,1732.30" fill="#137676"/>
<polygon points="722.50,1730.00 709.50,1732.30 709.50,1727.70" fill="#137676"/>
<text transform="translate(656.20,1726.50) scale(0.8100,1)" font-size="20.5" text-anchor="middle" fill="#1b1b1b">121</text>
<rect x="993.50" y="808.40" width="269.50" height="26.70" fill="#fff" stroke="none"/>
<line x1="993.50" y1="808.40" x2="1263.00" y2="808.40" stroke="#1f1f1f" stroke-width="1.5"/>
<line x1="993.50" y1="835.10" x2="1263.00" y2="835.10" stroke="#555" stroke-width="1.7"/>
<line x1="1263.00" y1="808.40" x2="1263.00" y2="835.10" stroke="#444" stroke-width="1.3"/>
<path d="M993.50,808.40 L993.50,811.40 L991.70,812.00 L991.70,832.50 L993.50,832.90 L993.50,835.10" fill="none" stroke="#333" stroke-width="1.4" stroke-linejoin="round" stroke-linecap="round"/>
<rect x="1023.25" y="819.00" width="11.3" height="5.6" rx="2.8" fill="none" stroke="#1a1a1a" stroke-width="1.1"/>
<rect x="1043.15" y="816.55" width="6.3" height="10.5" rx="3.1" fill="none" stroke="#1a1a1a" stroke-width="1.1"/>
<circle cx="1056.90" cy="821.80" r="2.9" fill="none" stroke="#1a1a1a" stroke-width="1.1"/>
<circle cx="1158.26" cy="821.80" r="2.6" fill="#fff" stroke="#111" stroke-width="2.2"/>
<circle cx="1171.26" cy="821.80" r="2.9" fill="none" stroke="#1a1a1a" stroke-width="1.1"/>
<circle cx="1184.96" cy="821.80" r="2.6" fill="#fff" stroke="#111" stroke-width="2.2"/>
<rect x="1191.36" y="816.60" width="19.3" height="10.5" rx="2" fill="none" stroke="#1a1a1a" stroke-width="1.1"/>
<rect x="993.50" y="913.20" width="324.50" height="26.70" fill="#fff" stroke="none"/>
<line x1="993.50" y1="913.20" x2="1318.00" y2="913.20" stroke="#1f1f1f" stroke-width="1.5"/>
<line x1="993.50" y1="939.90" x2="1318.00" y2="939.90" stroke="#555" stroke-width="1.7"/>
<line x1="1318.00" y1="913.20" x2="1318.00" y2="939.90" stroke="#444" stroke-width="1.3"/>
<path d="M993.50,913.20 L993.50,916.20 L991.70,916.80 L991.70,937.30 L993.50,937.70 L993.50,939.90" fill="none" stroke="#333" stroke-width="1.4" stroke-linejoin="round" stroke-linecap="round"/>
<rect x="1023.25" y="923.80" width="11.3" height="5.6" rx="2.8" fill="none" stroke="#1a1a1a" stroke-width="1.1"/>
<rect x="1043.15" y="921.35" width="6.3" height="10.5" rx="3.1" fill="none" stroke="#1a1a1a" stroke-width="1.1"/>
<circle cx="1056.90" cy="926.60" r="2.9" fill="none" stroke="#1a1a1a" stroke-width="1.1"/>
<rect x="1093.65" y="923.80" width="11.3" height="5.6" rx="2.8" fill="none" stroke="#1a1a1a" stroke-width="1.1"/>
<rect x="1113.55" y="921.35" width="6.3" height="10.5" rx="3.1" fill="none" stroke="#1a1a1a" stroke-width="1.1"/>
<circle cx="1127.30" cy="926.60" r="2.9" fill="none" stroke="#1a1a1a" stroke-width="1.1"/>
<circle cx="1213.26" cy="926.60" r="2.6" fill="#fff" stroke="#111" stroke-width="2.2"/>
<circle cx="1226.26" cy="926.60" r="2.9" fill="none" stroke="#1a1a1a" stroke-width="1.1"/>
<circle cx="1239.96" cy="926.60" r="2.6" fill="#fff" stroke="#111" stroke-width="2.2"/>
<rect x="1246.36" y="921.40" width="19.3" height="10.5" rx="2" fill="none" stroke="#1a1a1a" stroke-width="1.1"/>
<rect x="993.50" y="1009.50" width="379.50" height="26.70" fill="#fff" stroke="none"/>
<line x1="993.50" y1="1009.50" x2="1373.00" y2="1009.50" stroke="#1f1f1f" stroke-width="1.5"/>
<line x1="993.50" y1="1036.20" x2="1373.00" y2="1036.20" stroke="#555" stroke-width="1.7"/>
<line x1="1373.00" y1="1009.50" x2="1373.00" y2="1036.20" stroke="#444" stroke-width="1.3"/>
<path d="M993.50,1009.50 L993.50,1012.50 L991.70,1013.10 L991.70,1033.60 L993.50,1034.00 L993.50,1036.20" fill="none" stroke="#333" stroke-width="1.4" stroke-linejoin="round" stroke-linecap="round"/>
<rect x="1023.25" y="1020.10" width="11.3" height="5.6" rx="2.8" fill="none" stroke="#1a1a1a" stroke-width="1.1"/>
<rect x="1043.15" y="1017.65" width="6.3" height="10.5" rx="3.1" fill="none" stroke="#1a1a1a" stroke-width="1.1"/>
<circle cx="1056.90" cy="1022.90" r="2.9" fill="none" stroke="#1a1a1a" stroke-width="1.1"/>
<rect x="1128.85" y="1020.10" width="11.3" height="5.6" rx="2.8" fill="none" stroke="#1a1a1a" stroke-width="1.1"/>
<rect x="1148.75" y="1017.65" width="6.3" height="10.5" rx="3.1" fill="none" stroke="#1a1a1a" stroke-width="1.1"/>
<circle cx="1162.50" cy="1022.90" r="2.9" fill="none" stroke="#1a1a1a" stroke-width="1.1"/>
<circle cx="1268.26" cy="1022.90" r="2.6" fill="#fff" stroke="#111" stroke-width="2.2"/>
<circle cx="1281.26" cy="1022.90" r="2.9" fill="none" stroke="#1a1a1a" stroke-width="1.1"/>
<circle cx="1294.96" cy="1022.90" r="2.6" fill="#fff" stroke="#111" stroke-width="2.2"/>
<rect x="1301.36" y="1017.70" width="19.3" height="10.5" rx="2" fill="none" stroke="#1a1a1a" stroke-width="1.1"/>
<rect x="993.50" y="1119.60" width="434.50" height="26.70" fill="#fff" stroke="none"/>
<line x1="993.50" y1="1119.60" x2="1428.00" y2="1119.60" stroke="#1f1f1f" stroke-width="1.5"/>
<line x1="993.50" y1="1146.30" x2="1428.00" y2="1146.30" stroke="#555" stroke-width="1.7"/>
<line x1="1428.00" y1="1119.60" x2="1428.00" y2="1146.30" stroke="#444" stroke-width="1.3"/>
<path d="M993.50,1119.60 L993.50,1122.60 L991.70,1123.20 L991.70,1143.70 L993.50,1144.10 L993.50,1146.30" fill="none" stroke="#333" stroke-width="1.4" stroke-linejoin="round" stroke-linecap="round"/>
<rect x="1023.25" y="1130.20" width="11.3" height="5.6" rx="2.8" fill="none" stroke="#1a1a1a" stroke-width="1.1"/>
<rect x="1043.15" y="1127.75" width="6.3" height="10.5" rx="3.1" fill="none" stroke="#1a1a1a" stroke-width="1.1"/>
<circle cx="1056.90" cy="1133.00" r="2.9" fill="none" stroke="#1a1a1a" stroke-width="1.1"/>
<rect x="1199.25" y="1130.20" width="11.3" height="5.6" rx="2.8" fill="none" stroke="#1a1a1a" stroke-width="1.1"/>
<rect x="1219.15" y="1127.75" width="6.3" height="10.5" rx="3.1" fill="none" stroke="#1a1a1a" stroke-width="1.1"/>
<circle cx="1232.90" cy="1133.00" r="2.9" fill="none" stroke="#1a1a1a" stroke-width="1.1"/>
<circle cx="1301.26" cy="1133.00" r="2.6" fill="#fff" stroke="#111" stroke-width="2.2"/>
<circle cx="1314.26" cy="1133.00" r="2.9" fill="none" stroke="#1a1a1a" stroke-width="1.1"/>
<circle cx="1327.96" cy="1133.00" r="2.6" fill="#fff" stroke="#111" stroke-width="2.2"/>
<rect x="1334.36" y="1127.80" width="19.3" height="10.5" rx="2" fill="none" stroke="#1a1a1a" stroke-width="1.1"/>
<rect x="993.50" y="1233.00" width="489.50" height="26.70" fill="#fff" stroke="none"/>
<line x1="993.50" y1="1233.00" x2="1483.00" y2="1233.00" stroke="#1f1f1f" stroke-width="1.5"/>
<line x1="993.50" y1="1259.70" x2="1483.00" y2="1259.70" stroke="#555" stroke-width="1.7"/>
<line x1="1483.00" y1="1233.00" x2="1483.00" y2="1259.70" stroke="#444" stroke-width="1.3"/>
<path d="M993.50,1233.00 L993.50,1236.00 L991.70,1236.60 L991.70,1257.10 L993.50,1257.50 L993.50,1259.70" fill="none" stroke="#333" stroke-width="1.4" stroke-linejoin="round" stroke-linecap="round"/>
<rect x="1023.25" y="1243.60" width="11.3" height="5.6" rx="2.8" fill="none" stroke="#1a1a1a" stroke-width="1.1"/>
<rect x="1043.15" y="1241.15" width="6.3" height="10.5" rx="3.1" fill="none" stroke="#1a1a1a" stroke-width="1.1"/>
<circle cx="1056.90" cy="1246.40" r="2.9" fill="none" stroke="#1a1a1a" stroke-width="1.1"/>
<rect x="1199.25" y="1243.60" width="11.3" height="5.6" rx="2.8" fill="none" stroke="#1a1a1a" stroke-width="1.1"/>
<rect x="1219.15" y="1241.15" width="6.3" height="10.5" rx="3.1" fill="none" stroke="#1a1a1a" stroke-width="1.1"/>
<circle cx="1232.90" cy="1246.40" r="2.9" fill="none" stroke="#1a1a1a" stroke-width="1.1"/>
<circle cx="1356.26" cy="1246.40" r="2.6" fill="#fff" stroke="#111" stroke-width="2.2"/>
<circle cx="1369.26" cy="1246.40" r="2.9" fill="none" stroke="#1a1a1a" stroke-width="1.1"/>
<circle cx="1382.96" cy="1246.40" r="2.6" fill="#fff" stroke="#111" stroke-width="2.2"/>
<rect x="1389.36" y="1241.20" width="19.3" height="10.5" rx="2" fill="none" stroke="#1a1a1a" stroke-width="1.1"/>
<rect x="993.50" y="1346.20" width="544.50" height="26.70" fill="#fff" stroke="none"/>
<line x1="993.50" y1="1346.20" x2="1538.00" y2="1346.20" stroke="#1f1f1f" stroke-width="1.5"/>
<line x1="993.50" y1="1372.90" x2="1538.00" y2="1372.90" stroke="#555" stroke-width="1.7"/>
<line x1="1538.00" y1="1346.20" x2="1538.00" y2="1372.90" stroke="#444" stroke-width="1.3"/>
<path d="M993.50,1346.20 L993.50,1349.20 L991.70,1349.80 L991.70,1370.30 L993.50,1370.70 L993.50,1372.90" fill="none" stroke="#333" stroke-width="1.4" stroke-linejoin="round" stroke-linecap="round"/>
<rect x="1023.25" y="1356.80" width="11.3" height="5.6" rx="2.8" fill="none" stroke="#1a1a1a" stroke-width="1.1"/>
<rect x="1043.15" y="1354.35" width="6.3" height="10.5" rx="3.1" fill="none" stroke="#1a1a1a" stroke-width="1.1"/>
<circle cx="1056.90" cy="1359.60" r="2.9" fill="none" stroke="#1a1a1a" stroke-width="1.1"/>
<rect x="1234.45" y="1356.80" width="11.3" height="5.6" rx="2.8" fill="none" stroke="#1a1a1a" stroke-width="1.1"/>
<rect x="1254.35" y="1354.35" width="6.3" height="10.5" rx="3.1" fill="none" stroke="#1a1a1a" stroke-width="1.1"/>
<circle cx="1268.10" cy="1359.60" r="2.9" fill="none" stroke="#1a1a1a" stroke-width="1.1"/>
<circle cx="1368.90" cy="1359.60" r="2.6" fill="#fff" stroke="#111" stroke-width="2.2"/>
<circle cx="1424.26" cy="1359.60" r="2.9" fill="none" stroke="#1a1a1a" stroke-width="1.1"/>
<circle cx="1437.96" cy="1359.60" r="2.6" fill="#fff" stroke="#111" stroke-width="2.2"/>
<rect x="1444.36" y="1354.40" width="19.3" height="10.5" rx="2" fill="none" stroke="#1a1a1a" stroke-width="1.1"/>
<rect x="993.50" y="1458.60" width="599.50" height="26.70" fill="#fff" stroke="none"/>
<line x1="993.50" y1="1458.60" x2="1593.00" y2="1458.60" stroke="#1f1f1f" stroke-width="1.5"/>
<line x1="993.50" y1="1485.30" x2="1593.00" y2="1485.30" stroke="#555" stroke-width="1.7"/>
<line x1="1593.00" y1="1458.60" x2="1593.00" y2="1485.30" stroke="#444" stroke-width="1.3"/>
<path d="M993.50,1458.60 L993.50,1461.60 L991.70,1462.20 L991.70,1482.70 L993.50,1483.10 L993.50,1485.30" fill="none" stroke="#333" stroke-width="1.4" stroke-linejoin="round" stroke-linecap="round"/>
<rect x="1023.25" y="1469.20" width="11.3" height="5.6" rx="2.8" fill="none" stroke="#1a1a1a" stroke-width="1.1"/>
<rect x="1043.15" y="1466.75" width="6.3" height="10.5" rx="3.1" fill="none" stroke="#1a1a1a" stroke-width="1.1"/>
<circle cx="1056.90" cy="1472.00" r="2.9" fill="none" stroke="#1a1a1a" stroke-width="1.1"/>
<rect x="1234.45" y="1469.20" width="11.3" height="5.6" rx="2.8" fill="none" stroke="#1a1a1a" stroke-width="1.1"/>
<rect x="1254.35" y="1466.75" width="6.3" height="10.5" rx="3.1" fill="none" stroke="#1a1a1a" stroke-width="1.1"/>
<circle cx="1268.10" cy="1472.00" r="2.9" fill="none" stroke="#1a1a1a" stroke-width="1.1"/>
<rect x="1410.45" y="1469.20" width="11.3" height="5.6" rx="2.8" fill="none" stroke="#1a1a1a" stroke-width="1.1"/>
<rect x="1430.35" y="1466.75" width="6.3" height="10.5" rx="3.1" fill="none" stroke="#1a1a1a" stroke-width="1.1"/>
<circle cx="1444.10" cy="1472.00" r="2.9" fill="none" stroke="#1a1a1a" stroke-width="1.1"/>
<circle cx="1389.60" cy="1472.00" r="2.6" fill="#fff" stroke="#111" stroke-width="2.2"/>
<circle cx="1479.26" cy="1472.00" r="2.9" fill="none" stroke="#1a1a1a" stroke-width="1.1"/>
<circle cx="1492.96" cy="1472.00" r="2.6" fill="#fff" stroke="#111" stroke-width="2.2"/>
<rect x="1499.36" y="1466.80" width="19.3" height="10.5" rx="2" fill="none" stroke="#1a1a1a" stroke-width="1.1"/>
<rect x="993.50" y="1576.10" width="654.50" height="26.70" fill="#fff" stroke="none"/>
<line x1="993.50" y1="1576.10" x2="1648.00" y2="1576.10" stroke="#1f1f1f" stroke-width="1.5"/>
<line x1="993.50" y1="1602.80" x2="1648.00" y2="1602.80" stroke="#555" stroke-width="1.7"/>
<line x1="1648.00" y1="1576.10" x2="1648.00" y2="1602.80" stroke="#444" stroke-width="1.3"/>
<path d="M993.50,1576.10 L993.50,1579.10 L991.70,1579.70 L991.70,1600.20 L993.50,1600.60 L993.50,1602.80" fill="none" stroke="#333" stroke-width="1.4" stroke-linejoin="round" stroke-linecap="round"/>
<rect x="1023.25" y="1586.70" width="11.3" height="5.6" rx="2.8" fill="none" stroke="#1a1a1a" stroke-width="1.1"/>
<rect x="1043.15" y="1584.25" width="6.3" height="10.5" rx="3.1" fill="none" stroke="#1a1a1a" stroke-width="1.1"/>
<circle cx="1056.90" cy="1589.50" r="2.9" fill="none" stroke="#1a1a1a" stroke-width="1.1"/>
<rect x="1269.65" y="1586.70" width="11.3" height="5.6" rx="2.8" fill="none" stroke="#1a1a1a" stroke-width="1.1"/>
<rect x="1289.55" y="1584.25" width="6.3" height="10.5" rx="3.1" fill="none" stroke="#1a1a1a" stroke-width="1.1"/>
<circle cx="1303.30" cy="1589.50" r="2.9" fill="none" stroke="#1a1a1a" stroke-width="1.1"/>
<rect x="1445.65" y="1586.70" width="11.3" height="5.6" rx="2.8" fill="none" stroke="#1a1a1a" stroke-width="1.1"/>
<rect x="1465.55" y="1584.25" width="6.3" height="10.5" rx="3.1" fill="none" stroke="#1a1a1a" stroke-width="1.1"/>
<circle cx="1479.30" cy="1589.50" r="2.9" fill="none" stroke="#1a1a1a" stroke-width="1.1"/>
<circle cx="1424.90" cy="1589.50" r="2.6" fill="#fff" stroke="#111" stroke-width="2.2"/>
<circle cx="1534.26" cy="1589.50" r="2.9" fill="none" stroke="#1a1a1a" stroke-width="1.1"/>
<circle cx="1547.96" cy="1589.50" r="2.6" fill="#fff" stroke="#111" stroke-width="2.2"/>
<rect x="1554.36" y="1584.30" width="19.3" height="10.5" rx="2" fill="none" stroke="#1a1a1a" stroke-width="1.1"/>
<line x1="993.50" y1="774.00" x2="993.50" y2="1735.00" stroke="#65a09f" stroke-width="1.5"/>
<line x1="1046.30" y1="821.80" x2="1046.30" y2="1735.00" stroke="#65a09f" stroke-width="1.5"/>
<line x1="1116.70" y1="926.60" x2="1116.70" y2="1629.00" stroke="#65a09f" stroke-width="1.5"/>
<line x1="1151.90" y1="1022.90" x2="1151.90" y2="1653.00" stroke="#65a09f" stroke-width="1.5"/>
<line x1="1222.30" y1="1133.00" x2="1222.30" y2="1677.00" stroke="#65a09f" stroke-width="1.5"/>
<line x1="1257.50" y1="1359.60" x2="1257.50" y2="1710.00" stroke="#65a09f" stroke-width="1.5"/>
<line x1="1433.50" y1="1472.00" x2="1433.50" y2="1710.00" stroke="#65a09f" stroke-width="1.5"/>
<line x1="1292.70" y1="1589.50" x2="1292.70" y2="1735.00" stroke="#65a09f" stroke-width="1.5"/>
<line x1="1468.70" y1="1589.50" x2="1468.70" y2="1735.00" stroke="#65a09f" stroke-width="1.5"/>
<line x1="1534.26" y1="1589.50" x2="1534.26" y2="1735.00" stroke="#65a09f" stroke-width="1.5"/>
<line x1="1263.00" y1="774.00" x2="1263.00" y2="808.00" stroke="#65a09f" stroke-width="1.5"/>
<line x1="993.50" y1="778.30" x2="1263.00" y2="778.30" stroke="#65a09f" stroke-width="1.5"/>
<polygon points="993.50,778.30 1006.50,776.00 1006.50,780.60" fill="#137676"/>
<polygon points="1263.00,778.30 1250.00,780.60 1250.00,776.00" fill="#137676"/>
<text transform="translate(1132.80,775.60) scale(0.8100,1)" font-size="20.5" text-anchor="middle" fill="#1b1b1b">245</text>
<line x1="1171.26" y1="821.80" x2="1171.26" y2="862.50" stroke="#65a09f" stroke-width="1.5"/>
<line x1="1046.30" y1="858.50" x2="1171.26" y2="858.50" stroke="#65a09f" stroke-width="1.5"/>
<polygon points="1046.30,858.50 1059.30,856.20 1059.30,860.80" fill="#137676"/>
<polygon points="1171.26,858.50 1158.26,860.80 1158.26,856.20" fill="#137676"/>
<text transform="translate(1108.60,856.50) scale(0.8100,1)" font-size="20.5" text-anchor="middle" fill="#1b1b1b">113,6</text>
<line x1="1226.26" y1="926.60" x2="1226.26" y2="968.00" stroke="#65a09f" stroke-width="1.5"/>
<line x1="1116.70" y1="964.00" x2="1226.26" y2="964.00" stroke="#65a09f" stroke-width="1.5"/>
<polygon points="1116.70,964.00 1129.70,961.70 1129.70,966.30" fill="#137676"/>
<polygon points="1226.26,964.00 1213.26,966.30 1213.26,961.70" fill="#137676"/>
<text transform="translate(1171.00,962.00) scale(0.8100,1)" font-size="20.5" text-anchor="middle" fill="#1b1b1b">99,6</text>
<line x1="1281.26" y1="1022.90" x2="1281.26" y2="1062.70" stroke="#65a09f" stroke-width="1.5"/>
<line x1="1151.90" y1="1058.70" x2="1281.26" y2="1058.70" stroke="#65a09f" stroke-width="1.5"/>
<polygon points="1151.90,1058.70 1164.90,1056.40 1164.90,1061.00" fill="#137676"/>
<polygon points="1281.26,1058.70 1268.26,1061.00 1268.26,1056.40" fill="#137676"/>
<text transform="translate(1222.80,1056.70) scale(0.8100,1)" font-size="20.5" text-anchor="middle" fill="#1b1b1b">117,6</text>
<line x1="1314.26" y1="1133.00" x2="1314.26" y2="1175.40" stroke="#65a09f" stroke-width="1.5"/>
<line x1="1222.30" y1="1171.40" x2="1314.26" y2="1171.40" stroke="#65a09f" stroke-width="1.5"/>
<polygon points="1222.30,1171.40 1235.30,1169.10 1235.30,1173.70" fill="#137676"/>
<polygon points="1314.26,1171.40 1301.26,1173.70 1301.26,1169.10" fill="#137676"/>
<text transform="translate(1267.90,1169.40) scale(0.8100,1)" font-size="20.5" text-anchor="middle" fill="#1b1b1b">83,6</text>
<line x1="1369.26" y1="1246.40" x2="1369.26" y2="1289.60" stroke="#65a09f" stroke-width="1.5"/>
<line x1="1222.30" y1="1285.60" x2="1369.26" y2="1285.60" stroke="#65a09f" stroke-width="1.5"/>
<polygon points="1222.30,1285.60 1235.30,1283.30 1235.30,1287.90" fill="#137676"/>
<polygon points="1369.26,1285.60 1356.26,1287.90 1356.26,1283.30" fill="#137676"/>
<text transform="translate(1295.70,1283.60) scale(0.8100,1)" font-size="20.5" text-anchor="middle" fill="#1b1b1b">133,6</text>
<line x1="1424.26" y1="1359.60" x2="1424.26" y2="1401.00" stroke="#65a09f" stroke-width="1.5"/>
<line x1="1257.50" y1="1397.00" x2="1424.26" y2="1397.00" stroke="#65a09f" stroke-width="1.5"/>
<polygon points="1257.50,1397.00 1270.50,1394.70 1270.50,1399.30" fill="#137676"/>
<polygon points="1424.26,1397.00 1411.26,1399.30 1411.26,1394.70" fill="#137676"/>
<text transform="translate(1347.50,1395.00) scale(0.8100,1)" font-size="20.5" text-anchor="middle" fill="#1b1b1b">151,6</text>
<line x1="1479.26" y1="1472.00" x2="1479.26" y2="1514.30" stroke="#65a09f" stroke-width="1.5"/>
<line x1="1433.50" y1="1510.30" x2="1479.26" y2="1510.30" stroke="#65a09f" stroke-width="1.5"/>
<polygon points="1433.50,1510.30 1446.50,1508.00 1446.50,1512.60" fill="#137676"/>
<polygon points="1479.26,1510.30 1466.26,1512.60 1466.26,1508.00" fill="#137676"/>
<text transform="translate(1456.30,1508.30) scale(0.8100,1)" font-size="20.5" text-anchor="middle" fill="#1b1b1b">41,6</text>
<line x1="1150.00" y1="804.10" x2="1229.70" y2="869.60" stroke="#65a09f" stroke-width="1.5"/>
<polygon points="1168.94,819.90 1157.44,813.42 1160.36,809.86" fill="#137676"/>
<polygon points="1173.58,823.70 1185.08,830.18 1182.16,833.74" fill="#137676"/>
<text transform="translate(1220.00,855.00) rotate(39.414455425675555) scale(0.8100,1)" font-size="20.5" text-anchor="middle" fill="#1b1b1b">Ø4,6</text>
<line x1="1046.30" y1="1624.80" x2="1116.70" y2="1624.80" stroke="#65a09f" stroke-width="1.5"/>
<polygon points="1046.30,1624.80 1059.30,1622.50 1059.30,1627.10" fill="#137676"/>
<polygon points="1116.70,1624.80 1103.70,1627.10 1103.70,1622.50" fill="#137676"/>
<text transform="translate(1081.70,1622.80) scale(0.8100,1)" font-size="20.5" text-anchor="middle" fill="#1b1b1b">64</text>
<line x1="1046.30" y1="1649.40" x2="1151.90" y2="1649.40" stroke="#65a09f" stroke-width="1.5"/>
<polygon points="1046.30,1649.40 1059.30,1647.10 1059.30,1651.70" fill="#137676"/>
<polygon points="1151.90,1649.40 1138.90,1651.70 1138.90,1647.10" fill="#137676"/>
<text transform="translate(1098.80,1647.40) scale(0.8100,1)" font-size="20.5" text-anchor="middle" fill="#1b1b1b">96</text>
<line x1="1046.30" y1="1672.60" x2="1222.30" y2="1672.60" stroke="#65a09f" stroke-width="1.5"/>
<polygon points="1046.30,1672.60 1059.30,1670.30 1059.30,1674.90" fill="#137676"/>
<polygon points="1222.30,1672.60 1209.30,1674.90 1209.30,1670.30" fill="#137676"/>
<text transform="translate(1138.80,1670.60) scale(0.8100,1)" font-size="20.5" text-anchor="middle" fill="#1b1b1b">160</text>
<line x1="1046.30" y1="1705.10" x2="1257.50" y2="1705.10" stroke="#65a09f" stroke-width="1.5"/>
<polygon points="1046.30,1705.10 1059.30,1702.80 1059.30,1707.40" fill="#137676"/>
<polygon points="1257.50,1705.10 1244.50,1707.40 1244.50,1702.80" fill="#137676"/>
<text transform="translate(1152.00,1703.10) scale(0.8100,1)" font-size="20.5" text-anchor="middle" fill="#1b1b1b">192</text>
<line x1="1257.50" y1="1705.10" x2="1433.50" y2="1705.10" stroke="#65a09f" stroke-width="1.5"/>
<polygon points="1257.50,1705.10 1270.50,1702.80 1270.50,1707.40" fill="#137676"/>
<polygon points="1433.50,1705.10 1420.50,1707.40 1420.50,1702.80" fill="#137676"/>
<text transform="translate(1345.70,1703.10) scale(0.8100,1)" font-size="20.5" text-anchor="middle" fill="#1b1b1b">160</text>
<line x1="993.50" y1="1730.00" x2="1046.30" y2="1730.00" stroke="#65a09f" stroke-width="1.5"/>
<polygon points="993.50,1730.00 1006.50,1727.70 1006.50,1732.30" fill="#137676"/>
<polygon points="1046.30,1730.00 1033.30,1732.30 1033.30,1727.70" fill="#137676"/>
<text transform="translate(1020.00,1726.50) scale(0.8100,1)" font-size="20.5" text-anchor="middle" fill="#1b1b1b">48</text>
<line x1="1046.30" y1="1730.00" x2="1292.70" y2="1730.00" stroke="#65a09f" stroke-width="1.5"/>
<polygon points="1046.30,1730.00 1059.30,1727.70 1059.30,1732.30" fill="#137676"/>
<polygon points="1292.70,1730.00 1279.70,1732.30 1279.70,1727.70" fill="#137676"/>
<text transform="translate(1173.70,1726.50) scale(0.8100,1)" font-size="20.5" text-anchor="middle" fill="#1b1b1b">224</text>
<line x1="1292.70" y1="1730.00" x2="1468.70" y2="1730.00" stroke="#65a09f" stroke-width="1.5"/>
<polygon points="1292.70,1730.00 1305.70,1727.70 1305.70,1732.30" fill="#137676"/>
<polygon points="1468.70,1730.00 1455.70,1732.30 1455.70,1727.70" fill="#137676"/>
<text transform="translate(1385.60,1726.50) scale(0.8100,1)" font-size="20.5" text-anchor="middle" fill="#1b1b1b">160</text>
<line x1="1468.70" y1="1730.00" x2="1534.26" y2="1730.00" stroke="#65a09f" stroke-width="1.5"/>
<polygon points="1468.70,1730.00 1481.70,1727.70 1481.70,1732.30" fill="#137676"/>
<polygon points="1534.26,1730.00 1521.26,1732.30 1521.26,1727.70" fill="#137676"/>
<text transform="translate(1506.20,1726.50) scale(0.8100,1)" font-size="20.5" text-anchor="middle" fill="#1b1b1b">59,6</text>
<circle cx="246.40" cy="822.60" r="25.30" fill="none" stroke="#13787a" stroke-width="2.0" stroke-dasharray="58.29 6.18 8.83 6.18" stroke-dashoffset="29.14"/>
<circle cx="315.80" cy="1022.90" r="25.80" fill="none" stroke="#13787a" stroke-width="2.0" stroke-dasharray="59.44 6.30 9.01 6.30" stroke-dashoffset="29.72"/>
<circle cx="1149.20" cy="1023.70" r="23.60" fill="none" stroke="#13787a" stroke-width="2.0" stroke-dasharray="54.37 5.77 8.24 5.77" stroke-dashoffset="27.19"/>
<line x1="672.00" y1="763.40" x2="755.50" y2="763.40" stroke="#1a1a1a" stroke-width="2.2"/>
<line x1="737.80" y1="752.30" x2="761.20" y2="767.20" stroke="#333" stroke-width="1.0"/>
<line x1="662.00" y1="879.10" x2="764.70" y2="879.10" stroke="#1a1a1a" stroke-width="2.2"/>
<line x1="684.70" y1="894.70" x2="742.70" y2="894.70" stroke="#333" stroke-width="1.4"/>
<line x1="690.00" y1="897.50" x2="736.00" y2="897.50" stroke="#555" stroke-width="1.0"/>
<path d="M756.6,787.5 L659.7,787.5 Q650.7,787.5 650.7,796.5 L650.7,846.0 Q650.7,855.0 659.7,855.0 L756.6,855.0 A5.0,5.0 0 0 0 756.6,845.1 L668.0,845.1 Q662.0,845.1 662.0,839.1 L662.0,804.0 Q662.0,798.0 668.0,798.0 L756.6,798.0 A5.25,5.25 0 0 0 756.6,787.5 Z" fill="none" stroke="#1a1a1a" stroke-width="1.3" stroke-linejoin="round" stroke-linecap="round"/>
<circle cx="686.5" cy="821.7" r="10.8" fill="none" stroke="#1a1a1a" stroke-width="1.3"/>
<rect x="722.6" y="814.4" width="35" height="15.1" rx="7.5" fill="none" stroke="#1a1a1a" stroke-width="1.3"/>
<circle cx="713.7" cy="825.5" r="76" fill="none" stroke="#13787a" stroke-width="3"/>
<line x1="650.40" y1="711.00" x2="650.40" y2="787.70" stroke="#65a09f" stroke-width="1.5"/>
<line x1="762.60" y1="711.00" x2="762.60" y2="787.50" stroke="#65a09f" stroke-width="1.5"/>
<line x1="650.40" y1="715.50" x2="762.60" y2="715.50" stroke="#65a09f" stroke-width="1.5"/>
<polygon points="650.40,715.50 663.40,713.20 663.40,717.80" fill="#137676"/>
<polygon points="762.60,715.50 749.60,717.80 749.60,713.20" fill="#137676"/>
<text transform="translate(709.50,713.80) scale(0.8100,1)" font-size="20.5" text-anchor="middle" fill="#1b1b1b">34</text>
<line x1="686.10" y1="735.00" x2="686.10" y2="821.00" stroke="#65a09f" stroke-width="1.5"/>
<line x1="740.60" y1="735.00" x2="740.60" y2="821.00" stroke="#65a09f" stroke-width="1.5"/>
<line x1="686.10" y1="738.90" x2="740.60" y2="738.90" stroke="#65a09f" stroke-width="1.5"/>
<polygon points="686.10,738.90 699.10,736.60 699.10,741.20" fill="#137676"/>
<polygon points="740.60,738.90 727.60,741.20 727.60,736.60" fill="#137676"/>
<text transform="translate(713.50,736.60) scale(0.8100,1)" font-size="20.5" text-anchor="middle" fill="#1b1b1b">16</text>
<line x1="758.00" y1="787.50" x2="800.80" y2="787.50" stroke="#65a09f" stroke-width="1.1"/>
<line x1="758.00" y1="798.00" x2="800.80" y2="798.00" stroke="#65a09f" stroke-width="1.1"/>
<line x1="797.30" y1="757.30" x2="797.30" y2="812.50" stroke="#65a09f" stroke-width="1.5"/>
<polygon points="797.30,787.50 795.00,774.50 799.60,774.50" fill="#137676"/>
<polygon points="797.30,798.00 799.60,811.00 795.00,811.00" fill="#137676"/>
<text transform="translate(795.80,762.50) rotate(-90) scale(0.8100,1)" font-size="20.5" text-anchor="middle" fill="#1b1b1b">3</text>
<line x1="757.00" y1="814.40" x2="816.00" y2="814.40" stroke="#65a09f" stroke-width="1.1"/>
<line x1="757.00" y1="829.50" x2="816.00" y2="829.50" stroke="#65a09f" stroke-width="1.1"/>
<line x1="812.90" y1="786.30" x2="812.90" y2="868.50" stroke="#65a09f" stroke-width="1.5"/>
<polygon points="812.90,814.40 810.60,801.40 815.20,801.40" fill="#137676"/>
<polygon points="812.90,829.50 815.20,842.50 810.60,842.50" fill="#137676"/>
<text transform="translate(810.80,857.50) rotate(-90) scale(0.8100,1)" font-size="20.5" text-anchor="middle" fill="#1b1b1b">4,5</text>
<line x1="590.50" y1="787.50" x2="650.00" y2="787.50" stroke="#65a09f" stroke-width="1.1"/>
<line x1="590.50" y1="855.00" x2="650.00" y2="855.00" stroke="#65a09f" stroke-width="1.1"/>
<line x1="594.70" y1="787.50" x2="594.70" y2="855.00" stroke="#65a09f" stroke-width="1.5"/>
<polygon points="594.70,787.50 597.00,800.50 592.40,800.50" fill="#137676"/>
<polygon points="594.70,855.00 592.40,842.00 597.00,842.00" fill="#137676"/>
<text transform="translate(591.60,821.50) rotate(-90) scale(0.8100,1)" font-size="20.5" text-anchor="middle" fill="#1b1b1b">20,5</text>
<line x1="613.00" y1="811.10" x2="686.00" y2="811.10" stroke="#65a09f" stroke-width="1.1"/>
<line x1="613.00" y1="832.40" x2="686.00" y2="832.40" stroke="#65a09f" stroke-width="1.1"/>
<line x1="617.40" y1="790.60" x2="617.40" y2="852.90" stroke="#65a09f" stroke-width="1.5"/>
<polygon points="617.40,811.10 615.10,798.10 619.70,798.10" fill="#137676"/>
<polygon points="617.40,832.40 619.70,845.40 615.10,845.40" fill="#137676"/>
<text transform="translate(614.30,821.50) rotate(-90) scale(0.8100,1)" font-size="20.5" text-anchor="middle" fill="#1b1b1b">Ø6,5</text>
<line x1="722.60" y1="821.00" x2="722.60" y2="933.00" stroke="#65a09f" stroke-width="1.5"/>
<line x1="757.60" y1="821.00" x2="757.60" y2="933.00" stroke="#65a09f" stroke-width="1.5"/>
<line x1="688.20" y1="928.00" x2="791.60" y2="928.00" stroke="#65a09f" stroke-width="1.5"/>
<polygon points="722.60,928.00 709.60,930.30 709.60,925.70" fill="#137676"/>
<polygon points="757.60,928.00 770.60,925.70 770.60,930.30" fill="#137676"/>
<text transform="translate(739.90,922.60) scale(0.8100,1)" font-size="20.5" text-anchor="middle" fill="#1b1b1b">10,5</text>
<line x1="676.20" y1="1036.50" x2="764.00" y2="1036.50" stroke="#1a1a1a" stroke-width="2.2"/>
<line x1="671.20" y1="1152.90" x2="769.70" y2="1152.90" stroke="#1a1a1a" stroke-width="2.2"/>
<line x1="696.00" y1="1166.80" x2="744.20" y2="1166.80" stroke="#333" stroke-width="1.4"/>
<line x1="700.00" y1="1169.50" x2="740.00" y2="1169.50" stroke="#555" stroke-width="1.0"/>
<path d="M764.7,1060.9 L668.9,1060.9 Q659.9,1060.9 659.9,1069.9 L659.9,1119.6 Q659.9,1128.6 668.9,1128.6 L764.7,1128.6 A5.1,5.1 0 0 0 764.7,1118.4 L677.2,1118.4 Q671.2,1118.4 671.2,1112.4 L671.2,1076.9 Q671.2,1070.9 677.2,1070.9 L764.7,1070.9 A5.0,5.0 0 0 0 764.7,1060.9 Z" fill="none" stroke="#1a1a1a" stroke-width="1.3" stroke-linejoin="round" stroke-linecap="round"/>
<circle cx="695.7" cy="1094.6" r="11" fill="none" stroke="#1a1a1a" stroke-width="1.3"/>
<circle cx="748.7" cy="1094.6" r="7.4" fill="none" stroke="#1a1a1a" stroke-width="1.3"/>
<circle cx="720.1" cy="1096.9" r="75.5" fill="none" stroke="#13787a" stroke-width="3"/>
<line x1="659.60" y1="986.00" x2="659.60" y2="1061.00" stroke="#65a09f" stroke-width="1.5"/>
<line x1="771.80" y1="986.00" x2="771.80" y2="1061.00" stroke="#65a09f" stroke-width="1.5"/>
<line x1="659.60" y1="990.50" x2="771.80" y2="990.50" stroke="#65a09f" stroke-width="1.5"/>
<polygon points="659.60,990.50 672.60,988.20 672.60,992.80" fill="#137676"/>
<polygon points="771.80,990.50 758.80,992.80 758.80,988.20" fill="#137676"/>
<text transform="translate(715.50,988.50) scale(0.8100,1)" font-size="20.5" text-anchor="middle" fill="#1b1b1b">34</text>
<line x1="695.70" y1="1008.00" x2="695.70" y2="1094.00" stroke="#65a09f" stroke-width="1.5"/>
<line x1="748.40" y1="1008.00" x2="748.40" y2="1094.00" stroke="#65a09f" stroke-width="1.5"/>
<line x1="695.70" y1="1012.40" x2="748.40" y2="1012.40" stroke="#65a09f" stroke-width="1.5"/>
<polygon points="695.70,1012.40 708.70,1010.10 708.70,1014.70" fill="#137676"/>
<polygon points="748.40,1012.40 735.40,1014.70 735.40,1010.10" fill="#137676"/>
<text transform="translate(721.80,1010.40) scale(0.8100,1)" font-size="20.5" text-anchor="middle" fill="#1b1b1b">16</text>
<line x1="770.00" y1="1060.90" x2="800.80" y2="1060.90" stroke="#65a09f" stroke-width="1.1"/>
<line x1="770.00" y1="1070.90" x2="800.80" y2="1070.90" stroke="#65a09f" stroke-width="1.1"/>
<line x1="797.30" y1="1030.10" x2="797.30" y2="1084.70" stroke="#65a09f" stroke-width="1.5"/>
<polygon points="797.30,1060.90 795.00,1047.90 799.60,1047.90" fill="#137676"/>
<polygon points="797.30,1070.90 799.60,1083.90 795.00,1083.90" fill="#137676"/>
<text transform="translate(795.80,1036.00) rotate(-90) scale(0.8100,1)" font-size="20.5" text-anchor="middle" fill="#1b1b1b">3</text>
<line x1="750.00" y1="1087.50" x2="816.00" y2="1087.50" stroke="#65a09f" stroke-width="1.1"/>
<line x1="750.00" y1="1102.10" x2="816.00" y2="1102.10" stroke="#65a09f" stroke-width="1.1"/>
<line x1="812.90" y1="1059.20" x2="812.90" y2="1141.30" stroke="#65a09f" stroke-width="1.5"/>
<polygon points="812.90,1087.50 810.60,1074.50 815.20,1074.50" fill="#137676"/>
<polygon points="812.90,1102.10 815.20,1115.10 810.60,1115.10" fill="#137676"/>
<text transform="translate(810.80,1129.50) rotate(-90) scale(0.8100,1)" font-size="20.5" text-anchor="middle" fill="#1b1b1b">4,5</text>
<line x1="590.50" y1="1060.90" x2="657.00" y2="1060.90" stroke="#65a09f" stroke-width="1.1"/>
<line x1="590.50" y1="1128.60" x2="657.00" y2="1128.60" stroke="#65a09f" stroke-width="1.1"/>
<line x1="594.70" y1="1060.90" x2="594.70" y2="1128.60" stroke="#65a09f" stroke-width="1.5"/>
<polygon points="594.70,1060.90 597.00,1073.90 592.40,1073.90" fill="#137676"/>
<polygon points="594.70,1128.60 592.40,1115.60 597.00,1115.60" fill="#137676"/>
<text transform="translate(591.60,1094.70) rotate(-90) scale(0.8100,1)" font-size="20.5" text-anchor="middle" fill="#1b1b1b">20,5</text>
<line x1="613.00" y1="1084.40" x2="696.00" y2="1084.40" stroke="#65a09f" stroke-width="1.1"/>
<line x1="613.00" y1="1105.20" x2="696.00" y2="1105.20" stroke="#65a09f" stroke-width="1.1"/>
<line x1="617.40" y1="1065.50" x2="617.40" y2="1128.60" stroke="#65a09f" stroke-width="1.5"/>
<polygon points="617.40,1084.40 615.10,1071.40 619.70,1071.40" fill="#137676"/>
<polygon points="617.40,1105.20 619.70,1118.20 615.10,1118.20" fill="#137676"/>
<text transform="translate(614.30,1094.70) rotate(-90) scale(0.8100,1)" font-size="20.5" text-anchor="middle" fill="#1b1b1b">Ø6,5</text>
<path d="M1665.98,827.34 L1580.78,827.34 Q1571.96,827.34 1570.39,818.53 L1570.08,809.08 L1567.05,798.69 L1570.39,785.78 Q1572.59,778.54 1578.89,777.91 L1587.08,776.34 L1589.09,779.99" fill="none" stroke="#1f1f1f" stroke-width="1.0" stroke-linejoin="round" stroke-linecap="round"/>
<path d="M1665.62,827.34 L1750.82,827.34 Q1759.64,827.34 1761.21,818.53 L1761.52,809.08 L1764.55,798.69 L1761.21,785.78 Q1759.01,778.54 1752.71,777.91 L1744.52,776.34 L1742.51,779.99" fill="none" stroke="#1f1f1f" stroke-width="1.0" stroke-linejoin="round" stroke-linecap="round"/>
<path d="M1589.60,783.58 L1579.21,784.52 Q1577.00,785.78 1576.50,790.19 L1573.22,798.38 L1576.50,807.82 L1576.50,816.32 Q1577.00,820.73 1582.04,820.92 L1585.82,820.73 Q1588.65,819.79 1588.65,816.01 L1588.65,805.30 L1591.80,805.30" fill="none" stroke="#1f1f1f" stroke-width="1.0" stroke-linejoin="round" stroke-linecap="round"/>
<path d="M1742.00,783.58 L1752.39,784.52 Q1754.60,785.78 1755.10,790.19 L1758.38,798.38 L1755.10,807.82 L1755.10,816.32 Q1754.60,820.73 1749.56,820.92 L1745.78,820.73 Q1742.95,819.79 1742.95,816.01 L1742.95,805.30 L1739.80,805.30" fill="none" stroke="#1f1f1f" stroke-width="1.0" stroke-linejoin="round" stroke-linecap="round"/>
<path d="M1577.00,790.19 L1589.60,790.19" fill="none" stroke="#1f1f1f" stroke-width="1.0" stroke-linejoin="round" stroke-linecap="round"/>
<path d="M1754.60,790.19 L1742.00,790.19" fill="none" stroke="#1f1f1f" stroke-width="1.0" stroke-linejoin="round" stroke-linecap="round"/>
<path d="M1589.09,779.99 L1592.75,779.99" fill="none" stroke="#1f1f1f" stroke-width="1.0" stroke-linejoin="round" stroke-linecap="round"/>
<path d="M1742.51,779.99 L1738.85,779.99" fill="none" stroke="#1f1f1f" stroke-width="1.0" stroke-linejoin="round" stroke-linecap="round"/>
<path d="M1593.38,778.22 L1589.91,792.71 L1592.12,804.04 L1592.75,810.34 Q1594.01,819.79 1602.82,820.42 L1616.68,820.42 L1626.75,810.97" fill="none" stroke="#1f1f1f" stroke-width="1.0" stroke-linejoin="round" stroke-linecap="round"/>
<path d="M1738.22,778.22 L1741.69,792.71 L1739.48,804.04 L1738.85,810.34 Q1737.59,819.79 1728.78,820.42 L1714.92,820.42 L1704.85,810.97" fill="none" stroke="#1f1f1f" stroke-width="1.0" stroke-linejoin="round" stroke-linecap="round"/>
<path d="M1596.52,779.80 L1593.38,793.34 L1596.52,802.78 L1597.15,810.34 Q1597.78,815.06 1600.62,815.38 L1617.93,815.38 L1624.86,809.84" fill="none" stroke="#1f1f1f" stroke-width="1.0" stroke-linejoin="round" stroke-linecap="round"/>
<path d="M1735.08,779.80 L1738.22,793.34 L1735.08,802.78 L1734.45,810.34 Q1733.82,815.06 1730.98,815.38 L1713.67,815.38 L1706.74,809.84" fill="none" stroke="#1f1f1f" stroke-width="1.0" stroke-linejoin="round" stroke-linecap="round"/>
<path d="M1593.38,778.22 L1596.52,779.80" fill="none" stroke="#1f1f1f" stroke-width="1.0" stroke-linejoin="round" stroke-linecap="round"/>
<path d="M1738.22,778.22 L1735.08,779.80" fill="none" stroke="#1f1f1f" stroke-width="1.0" stroke-linejoin="round" stroke-linecap="round"/>
<path d="M1597.78,779.61 L1613.02,779.61" fill="none" stroke="#1f1f1f" stroke-width="1.0" stroke-linejoin="round" stroke-linecap="round"/>
<path d="M1733.82,779.61 L1718.58,779.61" fill="none" stroke="#1f1f1f" stroke-width="1.0" stroke-linejoin="round" stroke-linecap="round"/>
<path d="M1598.10,780.43 L1605.34,780.74 Q1610.38,782.63 1610.69,790.19 L1610.69,802.47 L1624.23,802.47" fill="none" stroke="#1f1f1f" stroke-width="1.0" stroke-linejoin="round" stroke-linecap="round"/>
<path d="M1733.50,780.43 L1726.26,780.74 Q1721.22,782.63 1720.91,790.19 L1720.91,802.47 L1707.37,802.47" fill="none" stroke="#1f1f1f" stroke-width="1.0" stroke-linejoin="round" stroke-linecap="round"/>
<path d="M1599.04,813.49 L1618.56,813.49" fill="none" stroke="#1f1f1f" stroke-width="1.0" stroke-linejoin="round" stroke-linecap="round"/>
<path d="M1732.56,813.49 L1713.04,813.49" fill="none" stroke="#1f1f1f" stroke-width="1.0" stroke-linejoin="round" stroke-linecap="round"/>
<path d="M1665.98,771.30 L1624.23,771.30 L1624.23,804.04 Q1624.23,809.08 1629.27,811.60 L1665.98,811.60" fill="none" stroke="#1f1f1f" stroke-width="1.0" stroke-linejoin="round" stroke-linecap="round"/>
<path d="M1665.62,771.30 L1707.37,771.30 L1707.37,804.04 Q1707.37,809.08 1702.33,811.60 L1665.62,811.60" fill="none" stroke="#1f1f1f" stroke-width="1.0" stroke-linejoin="round" stroke-linecap="round"/>
<path d="M1624.23,771.30 Q1614.79,771.93 1613.21,779.80 L1613.21,783.89 Q1614.16,788.93 1616.68,791.45" fill="none" stroke="#1f1f1f" stroke-width="1.0" stroke-linejoin="round" stroke-linecap="round"/>
<path d="M1707.37,771.30 Q1716.81,771.93 1718.39,779.80 L1718.39,783.89 Q1717.44,788.93 1714.92,791.45" fill="none" stroke="#1f1f1f" stroke-width="1.0" stroke-linejoin="round" stroke-linecap="round"/>
<path d="M1624.23,778.22 Q1620.45,778.85 1619.19,782.00 L1613.53,783.89" fill="none" stroke="#1f1f1f" stroke-width="1.0" stroke-linejoin="round" stroke-linecap="round"/>
<path d="M1707.37,778.22 Q1711.15,778.85 1712.41,782.00 L1718.07,783.89" fill="none" stroke="#1f1f1f" stroke-width="1.0" stroke-linejoin="round" stroke-linecap="round"/>
<path d="M1619.19,782.00 L1622.97,792.71 L1619.51,801.52 L1613.53,798.38 L1616.68,791.45 L1622.97,792.71" fill="none" stroke="#1f1f1f" stroke-width="1.0" stroke-linejoin="round" stroke-linecap="round"/>
<path d="M1712.41,782.00 L1708.63,792.71 L1712.09,801.52 L1718.07,798.38 L1714.92,791.45 L1708.63,792.71" fill="none" stroke="#1f1f1f" stroke-width="1.0" stroke-linejoin="round" stroke-linecap="round"/>
<path d="M1619.82,820.42 L1665.98,820.42" fill="none" stroke="#1f1f1f" stroke-width="1.0" stroke-linejoin="round" stroke-linecap="round"/>
<path d="M1711.78,820.42 L1665.62,820.42" fill="none" stroke="#1f1f1f" stroke-width="1.0" stroke-linejoin="round" stroke-linecap="round"/>
<path d="M1622.34,818.53 L1665.98,818.53" fill="none" stroke="#1f1f1f" stroke-width="1.0" stroke-linejoin="round" stroke-linecap="round"/>
<path d="M1709.26,818.53 L1665.62,818.53" fill="none" stroke="#1f1f1f" stroke-width="1.0" stroke-linejoin="round" stroke-linecap="round"/>
<path d="M1634.94,811.91 L1634.94,818.53" fill="none" stroke="#1f1f1f" stroke-width="1.0" stroke-linejoin="round" stroke-linecap="round"/>
<path d="M1696.66,811.91 L1696.66,818.53" fill="none" stroke="#1f1f1f" stroke-width="1.0" stroke-linejoin="round" stroke-linecap="round"/>
<path d="M1636.95,811.91 L1636.95,818.53" fill="none" stroke="#1f1f1f" stroke-width="1.0" stroke-linejoin="round" stroke-linecap="round"/>
<path d="M1694.65,811.91 L1694.65,818.53" fill="none" stroke="#1f1f1f" stroke-width="1.0" stroke-linejoin="round" stroke-linecap="round"/>
<path d="M1650.68,811.91 L1650.68,820.73" fill="none" stroke="#1f1f1f" stroke-width="1.0" stroke-linejoin="round" stroke-linecap="round"/>
<path d="M1680.92,811.91 L1680.92,820.73" fill="none" stroke="#1f1f1f" stroke-width="1.0" stroke-linejoin="round" stroke-linecap="round"/>
<path d="M1652.57,811.91 L1652.57,820.73" fill="none" stroke="#1f1f1f" stroke-width="1.0" stroke-linejoin="round" stroke-linecap="round"/>
<path d="M1679.03,811.91 L1679.03,820.73" fill="none" stroke="#1f1f1f" stroke-width="1.0" stroke-linejoin="round" stroke-linecap="round"/>
<line x1="1688.00" y1="729.50" x2="1688.00" y2="804.80" stroke="#65a09f" stroke-width="1.5"/>
<polygon points="1688.00,771.40 1685.70,758.40 1690.30,758.40" fill="#137676"/>
<polygon points="1688.00,778.40 1690.30,791.40 1685.70,791.40" fill="#137676"/>
<line x1="1684.00" y1="778.40" x2="1740.00" y2="778.40" stroke="#65a09f" stroke-width="1.1"/>
<text transform="translate(1686.00,739.80) rotate(-90) scale(0.8100,1)" font-size="20.5" text-anchor="middle" fill="#1b1b1b">1,4</text>
<line x1="1544.20" y1="820.40" x2="1790.00" y2="820.40" stroke="#65a09f" stroke-width="1.1"/>
<line x1="1544.20" y1="827.30" x2="1826.40" y2="827.30" stroke="#65a09f" stroke-width="1.1"/>
<line x1="1555.50" y1="783.20" x2="1555.50" y2="853.30" stroke="#65a09f" stroke-width="1.5"/>
<polygon points="1555.50,820.40 1553.20,807.40 1557.80,807.40" fill="#137676"/>
<polygon points="1555.50,827.30 1557.80,840.30 1553.20,840.30" fill="#137676"/>
<text transform="translate(1553.00,794.40) rotate(-90) scale(0.8100,1)" font-size="20.5" text-anchor="middle" fill="#1b1b1b">1,2</text>
<line x1="1700.00" y1="815.20" x2="1793.00" y2="815.20" stroke="#65a09f" stroke-width="1.1"/>
<line x1="1790.00" y1="777.10" x2="1790.00" y2="847.30" stroke="#65a09f" stroke-width="1.5"/>
<polygon points="1790.00,815.20 1787.70,802.20 1792.30,802.20" fill="#137676"/>
<polygon points="1790.00,827.30 1792.30,840.30 1787.70,840.30" fill="#137676"/>
<text transform="translate(1787.80,789.30) rotate(-90) scale(0.8100,1)" font-size="20.5" text-anchor="middle" fill="#1b1b1b">1,2</text>
<line x1="1707.00" y1="771.40" x2="1826.40" y2="771.40" stroke="#65a09f" stroke-width="1.1"/>
<line x1="1819.50" y1="771.40" x2="1819.50" y2="912.20" stroke="#65a09f" stroke-width="1.5"/>
<polygon points="1819.50,771.40 1821.80,784.40 1817.20,784.40" fill="#137676"/>
<polygon points="1819.50,827.30 1817.20,814.30 1821.80,814.30" fill="#137676"/>
<text transform="translate(1817.00,872.70) rotate(-90) scale(0.8100,1)" font-size="20.5" text-anchor="middle" fill="#1b1b1b">12,7  -0,2</text>
<line x1="1566.40" y1="797.90" x2="1566.40" y2="867.00" stroke="#65a09f" stroke-width="1.5"/>
<line x1="1764.60" y1="803.00" x2="1764.60" y2="867.00" stroke="#65a09f" stroke-width="1.5"/>
<line x1="1566.40" y1="863.70" x2="1764.60" y2="863.70" stroke="#65a09f" stroke-width="1.5"/>
<polygon points="1566.40,863.70 1579.40,861.40 1579.40,866.00" fill="#137676"/>
<polygon points="1764.60,863.70 1751.60,866.00 1751.60,861.40" fill="#137676"/>
<text transform="translate(1665.40,860.60) scale(0.8100,1)" font-size="20.5" text-anchor="middle" fill="#1b1b1b">45,5 ±0,3</text>
<circle cx="1674.0" cy="1023.7" r="69.4" fill="none" stroke="#13787a" stroke-width="3" stroke-dasharray="56.93 10.30 11.26 10.66 257.76 10.90 11.14 10.17 56.93"/>
<line x1="1618.50" y1="984.10" x2="1728.70" y2="984.10" stroke="#333" stroke-width="1.2"/>
<line x1="1618.50" y1="1063.70" x2="1728.70" y2="1063.70" stroke="#333" stroke-width="1.2"/>
<rect x="1613.5" y="1016.1" width="32.1" height="15.2" rx="7.6" fill="none" stroke="#1a1a1a" stroke-width="1.3"/>
<rect x="1674.0" y="1008.0" width="15.7" height="31.5" rx="7.8" fill="none" stroke="#1a1a1a" stroke-width="1.3"/>
<circle cx="1712.6" cy="1023.4" r="7.9" fill="none" stroke="#1a1a1a" stroke-width="1.3"/>
<line x1="1629.30" y1="931.00" x2="1629.30" y2="1015.20" stroke="#65a09f" stroke-width="1.5"/>
<line x1="1681.80" y1="931.00" x2="1681.80" y2="1016.00" stroke="#65a09f" stroke-width="1.5"/>
<line x1="1712.60" y1="931.00" x2="1712.60" y2="1023.40" stroke="#65a09f" stroke-width="1.5"/>
<line x1="1629.30" y1="935.00" x2="1747.00" y2="935.00" stroke="#65a09f" stroke-width="1.5"/>
<polygon points="1629.30,935.00 1642.30,932.70 1642.30,937.30" fill="#137676"/>
<polygon points="1681.80,935.00 1668.80,937.30 1668.80,932.70" fill="#137676"/>
<polygon points="1712.60,935.00 1725.60,932.70 1725.60,937.30" fill="#137676"/>
<text transform="translate(1655.00,929.20) scale(0.8100,1)" font-size="20.5" text-anchor="middle" fill="#1b1b1b">15,8</text>
<text transform="translate(1697.20,929.20) scale(0.8100,1)" font-size="20.5" text-anchor="middle" fill="#1b1b1b">9,4</text>
<line x1="1572.00" y1="1016.10" x2="1614.00" y2="1016.10" stroke="#65a09f" stroke-width="1.1"/>
<line x1="1572.00" y1="1031.30" x2="1614.00" y2="1031.30" stroke="#65a09f" stroke-width="1.1"/>
<line x1="1576.10" y1="974.30" x2="1576.10" y2="1056.80" stroke="#65a09f" stroke-width="1.5"/>
<polygon points="1576.10,1016.10 1573.80,1003.10 1578.40,1003.10" fill="#137676"/>
<polygon points="1576.10,1031.30 1578.40,1044.30 1573.80,1044.30" fill="#137676"/>
<text transform="translate(1575.00,986.90) rotate(-90) scale(0.8100,1)" font-size="20.5" text-anchor="middle" fill="#1b1b1b">4,6</text>
<line x1="1712.00" y1="1016.10" x2="1777.20" y2="1016.10" stroke="#65a09f" stroke-width="1.1"/>
<line x1="1712.00" y1="1031.30" x2="1777.20" y2="1031.30" stroke="#65a09f" stroke-width="1.1"/>
<line x1="1773.40" y1="964.20" x2="1773.40" y2="1056.10" stroke="#65a09f" stroke-width="1.5"/>
<polygon points="1773.40,1016.10 1771.10,1003.10 1775.70,1003.10" fill="#137676"/>
<polygon points="1773.40,1031.30 1775.70,1044.30 1771.10,1044.30" fill="#137676"/>
<text transform="translate(1771.20,981.80) rotate(-90) scale(0.8100,1)" font-size="20.5" text-anchor="middle" fill="#1b1b1b">Ø4,6</text>
<line x1="1613.50" y1="1024.00" x2="1613.50" y2="1119.70" stroke="#65a09f" stroke-width="1.5"/>
<line x1="1645.60" y1="1024.00" x2="1645.60" y2="1119.70" stroke="#65a09f" stroke-width="1.5"/>
<line x1="1587.00" y1="1109.60" x2="1670.80" y2="1109.60" stroke="#65a09f" stroke-width="1.5"/>
<polygon points="1613.50,1109.60 1600.50,1111.90 1600.50,1107.30" fill="#137676"/>
<polygon points="1645.60,1109.60 1658.60,1107.30 1658.60,1111.90" fill="#137676"/>
<text transform="translate(1629.30,1105.90) scale(0.8100,1)" font-size="20.5" text-anchor="middle" fill="#1b1b1b">9,5</text>
</svg>
</body></html>
